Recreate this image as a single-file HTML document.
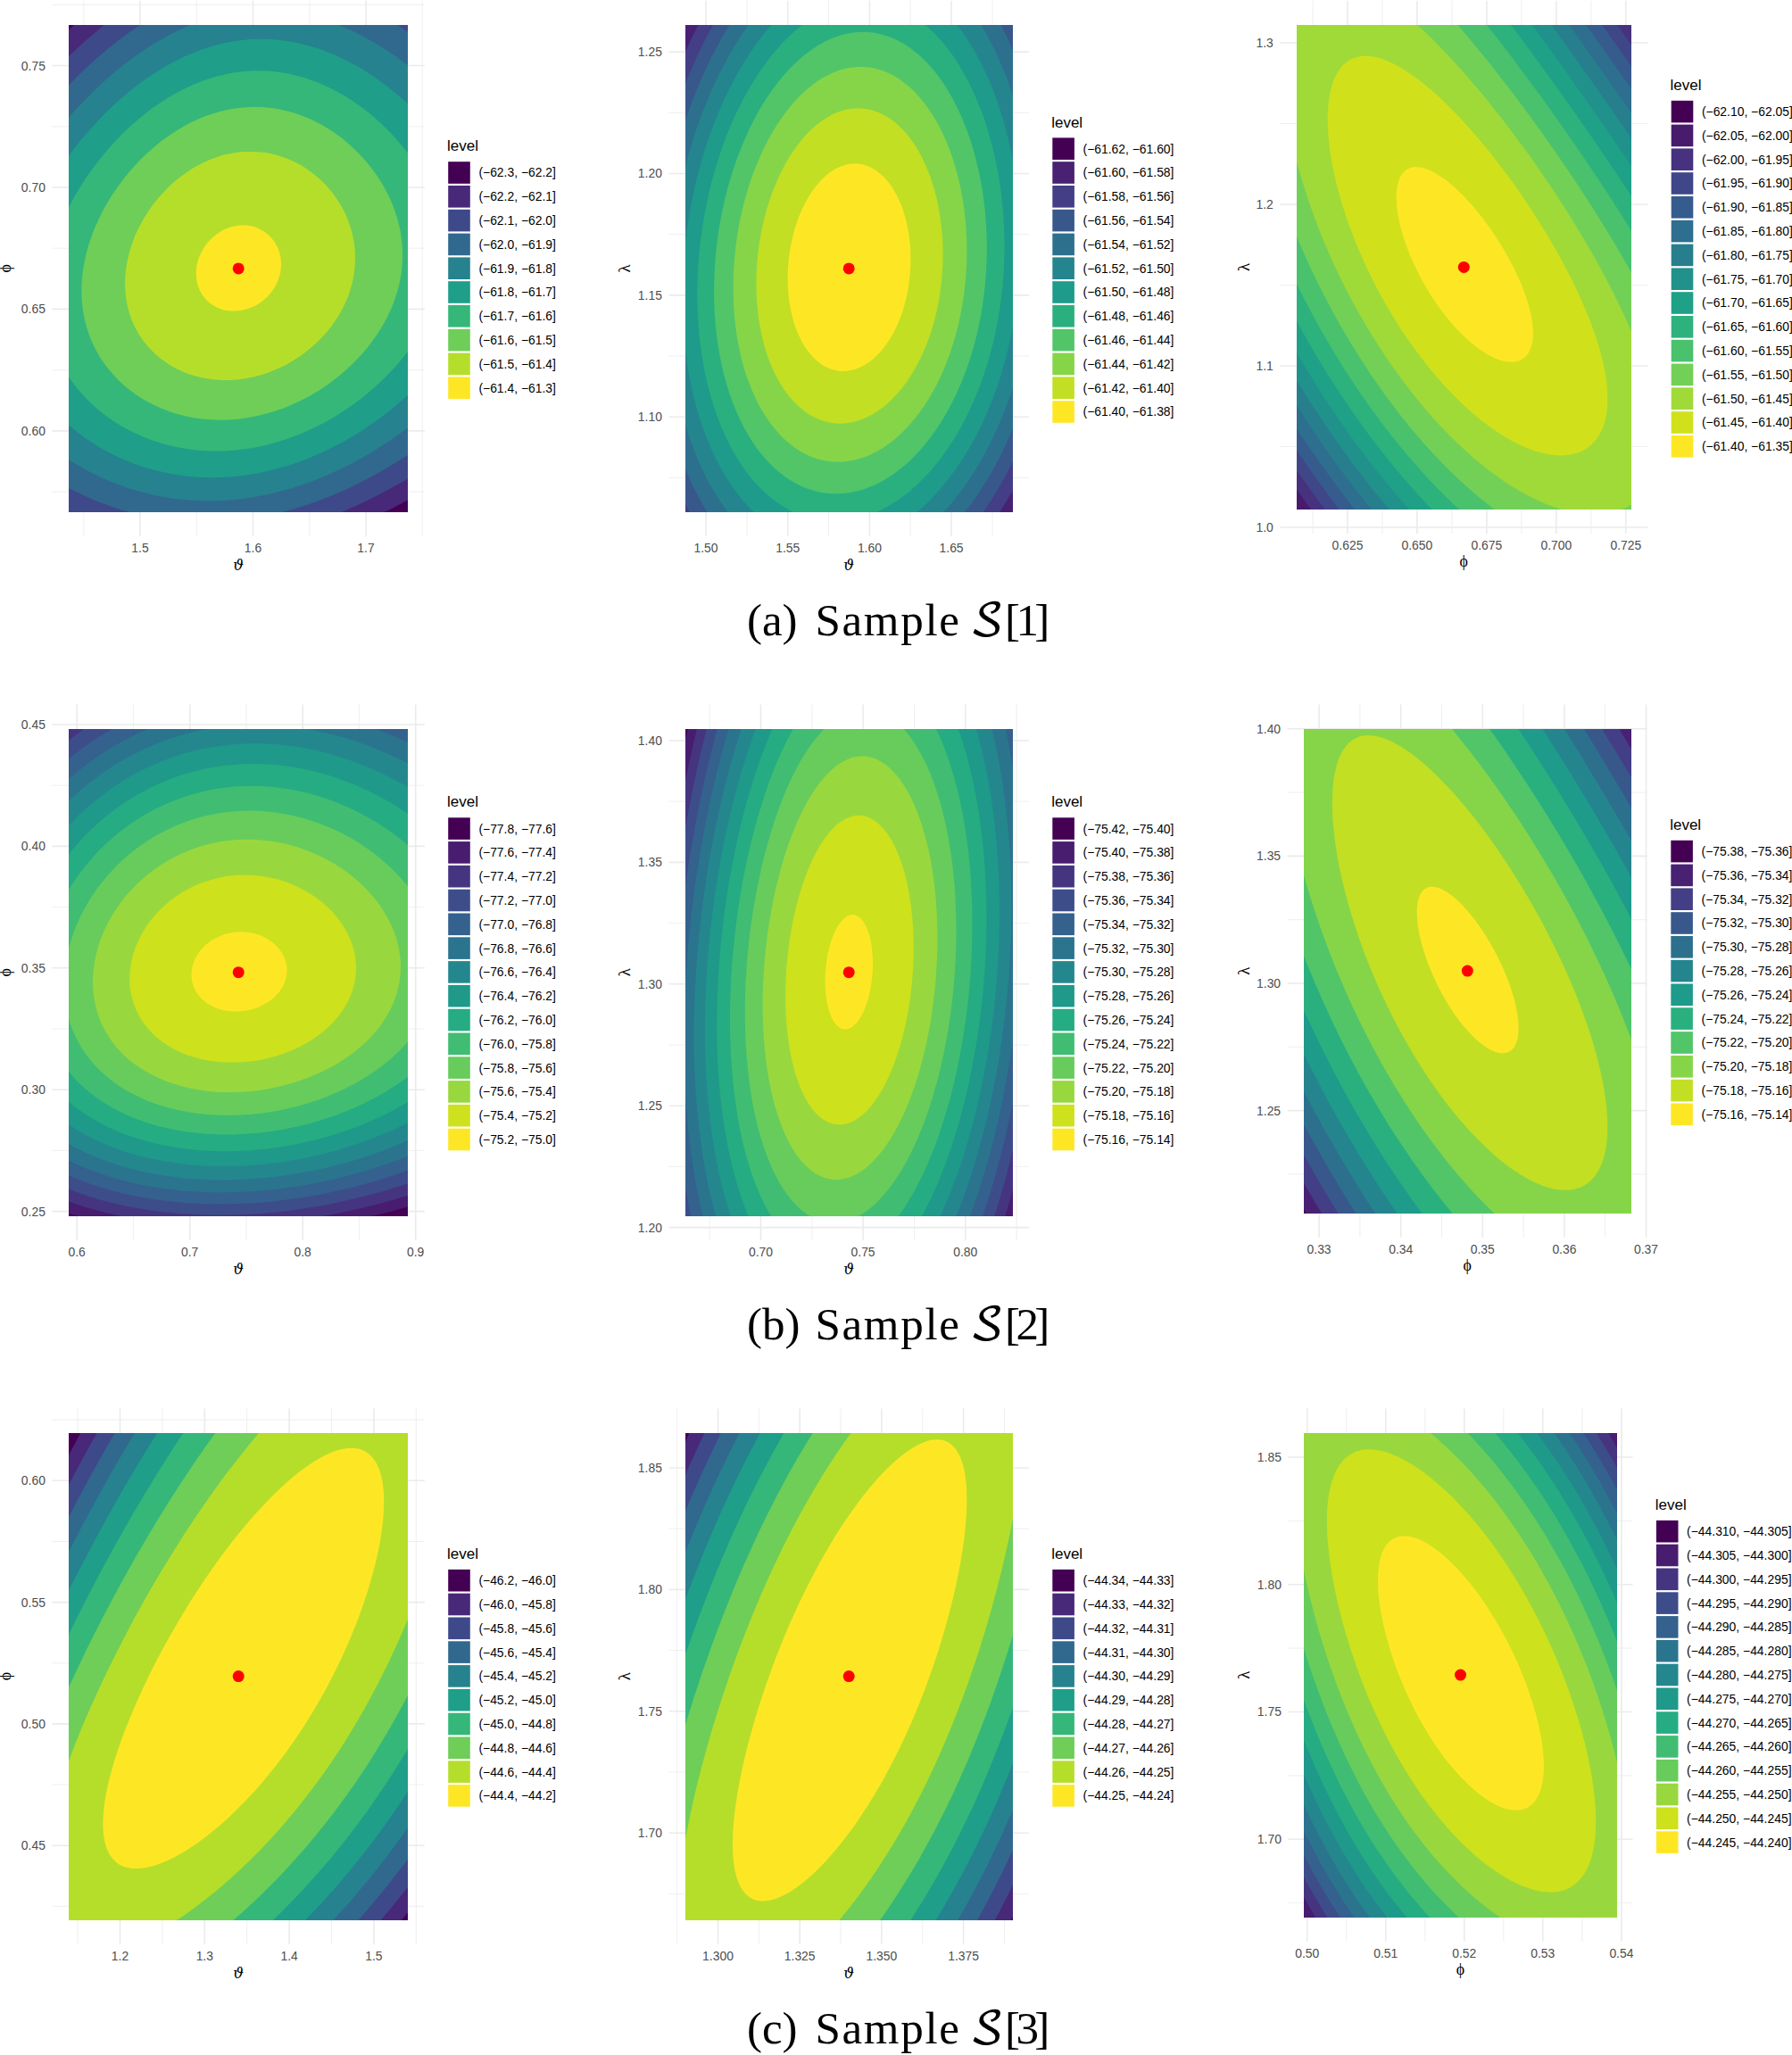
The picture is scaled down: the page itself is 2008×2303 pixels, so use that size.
<!DOCTYPE html>
<html lang="en"><head><meta charset="utf-8"><title>Log-likelihood contours</title><style>
html,body{margin:0;padding:0;background:#fff}
svg{display:block}
text{font-family:"Liberation Sans",sans-serif}
.tk text{font-size:13.9px;fill:#4d4d4d}
.ll text{font-size:13.9px;fill:#000}
.lt{font-size:17px;fill:#000}
.gth{font-family:"DejaVu Serif","Liberation Serif",serif;font-style:italic;font-size:16.5px;fill:#000}
.gph{font-family:"Liberation Serif","DejaVu Serif",serif;font-size:17.8px;fill:#000}
.gla{font-family:"Liberation Serif","DejaVu Serif",serif;font-size:19px;fill:#000}
.cap text{font-family:"Liberation Serif",serif;font-size:51px;fill:#000}
.cap text.cs{font-family:"DejaVu Math TeX Gyre","DejaVu Serif",serif;font-size:50px}
</style></head><body>
<svg xmlns="http://www.w3.org/2000/svg" width="2008" height="2303" viewBox="0 0 2008 2303">
<rect width="2008" height="2303" fill="#fff"/>
<g class="p0">
<path d="M93.8,0.8V601.1M220.2,0.8V601.1M346.8,0.8V601.1M473.2,0.8V601.1M58.5,5.3H475.8M58.5,141.8H475.8M58.5,278.2H475.8M58.5,414.7H475.8M58.5,551.1H475.8" stroke="#ebebeb" stroke-width="0.8" fill="none"/>
<path d="M157,0.8V601.1M283.5,0.8V601.1M410,0.8V601.1M58.5,73.5H475.8M58.5,210H475.8M58.5,346.4H475.8M58.5,482.9H475.8" stroke="#ebebeb" stroke-width="1.6" fill="none"/>
<clipPath id="c0"><rect x="77" y="28" width="380" height="546"/></clipPath>
<g clip-path="url(#c0)">
<rect x="74.5" y="25" width="385.4" height="551.8" fill="#440154"/>
<path d="M71.8,582 414.1,582 425.7,576.5 437.9,570.5 449.9,564.3 462.5,557.5 462.5,19.9 92.3,19.9 82,28.9 71.8,38.4Z" fill="#482878"/>
<path d="M91.9,581.1 94.2,582 362.1,582 374.1,577.4 386.6,572.3 399.3,566.7 411.3,561.1 424,554.8 436.1,548.3 449.2,541.1 462.5,533.3 462.5,19.9 127.1,19.9 120.1,25.3 113.3,30.8 106.6,36.4 99.4,42.6 92.6,48.6 85.7,54.9 78.7,61.5 71.8,68.3 71.8,572.4 81.9,576.9Z" fill="#3e4989"/>
<path d="M178.3,581.1 184.3,582 276.1,582 286.8,580.3 297.5,578.4 308.2,576 319,573.3 327.8,570.9 336.7,568.2 345.6,565.3 354.4,562.2 363.3,558.8 372.1,555.3 381,551.5 389.9,547.4 399.3,542.9 408.1,538.5 417,533.8 425.9,528.9 434.7,523.8 443.7,518.3 453,512.5 462.5,506.3 462.5,39.3 454.9,34.2 446.8,28.9 439.1,24.2 431.7,19.9 169.8,19.9 163.5,23.7 157.1,27.8 151.4,31.7 145.1,36.1 138.8,40.7 132.6,45.3 126.8,49.9 120.5,55 114.7,59.9 108.4,65.3 102.1,71 95.8,76.8 89.8,82.6 83.8,88.5 77.9,94.4 71.8,100.9 71.8,544.2 77.8,547.4 84.4,550.8 90.6,553.8 97.1,556.8 103.4,559.5 110.3,562.4 116.7,564.8 123.6,567.3 129.9,569.4 136.9,571.6 143.9,573.6 150.8,575.4 157.8,577.1 164.7,578.6 171.7,579.9Z" fill="#31688e"/>
<path d="M219.6,561.1 227.3,561.3 234.9,561.4 242.5,561.3 250.1,561 257.7,560.5 265.3,559.8 272.8,558.9 280.4,557.8 288,556.5 295.6,555.1 303.2,553.4 310.8,551.6 318.4,549.6 326,547.4 334.2,544.8 341.8,542.2 349.3,539.5 356.9,536.5 364.5,533.4 372.1,530 379.7,526.5 387.3,522.8 394.9,518.9 402.7,514.7 410.7,510.2 418.3,505.7 425.7,501 432.8,496.5 439.8,491.8 447.4,486.5 454.9,481 462.5,475.3 462.5,77.3 455.6,72 449,67.2 442.6,62.6 435.9,58.1 429,53.6 422.1,49.3 415.2,45.3 408.8,41.8 401.8,38.1 395.5,35 388.5,31.8 382.2,29.1 375.3,26.4 368.9,24 362.6,21.9 355.9,19.9 236.8,19.9 230.9,21.7 224.8,23.7 218.5,26.1 212.1,28.6 203,32.6 193.8,37 185,41.7 176.1,46.8 167.3,52.2 158.4,58.1 149.4,64.4 140.1,71.4 131.2,78.5 122.4,86 114,93.5 105.3,101.7 97.1,109.9 88.3,119 80.1,128.1 71.8,137.7 71.8,511.6 80,517 88.1,522 96.4,526.7 105.3,531.3 114.1,535.5 123,539.4 132.5,543.1 142,546.5 151.4,549.5 160.9,552.1 171,554.6 180.5,556.5 190.6,558.2 200.1,559.5 209.6,560.4Z" fill="#26828e"/>
<path d="M221.7,534.7 229.2,535.1 236.8,535.2 244.4,535.1 252.6,534.8 260.2,534.3 267.8,533.5 275.4,532.6 283.6,531.3 291.2,529.9 299.4,528.1 307,526.3 315.2,524.1 322.8,521.8 330.6,519.2 338.2,516.5 346.2,513.4 354,510.1 362,506.6 369.6,503 376.9,499.2 384.1,495.4 391.8,491 399.3,486.5 406.9,481.7 413.8,477.1 421.2,471.9 428.6,466.5 435.7,461 442.5,455.6 449.2,449.8 456.1,443.7 462.5,437.7 462.5,121.5 455,114.5 448,108.3 440.4,101.9 433.2,96.3 425.9,90.8 418.1,85.3 410,80.1 402.2,75.3 394.2,70.9 386.6,66.9 379.1,63.3 370.8,59.7 362.6,56.5 354.4,53.7 346.8,51.4 338.6,49.2 329.7,47.3 321.5,45.9 312.7,44.7 303.8,44 295,43.7 286.1,43.8 277.3,44.3 269,45.2 260.8,46.4 252,48.1 243.1,50.3 234.3,52.8 226.1,55.5 217.2,58.9 208.5,62.6 200.1,66.5 191.3,71.1 182.4,76.2 173.6,81.7 165.4,87.1 156.5,93.5 148.3,99.8 140.1,106.5 132,113.5 124.1,120.8 115.8,129 107.9,137.2 100.4,145.4 92.6,154.5 85.7,163 78.7,172.1 71.8,181.7 71.8,471.5 79.3,478.3 87.1,484.7 95.2,490.7 103.8,496.5 112.2,501.7 121.1,506.6 130.6,511.4 140.1,515.6 149.5,519.4 159.7,522.9 169.8,526 179.9,528.6 190,530.7 200.8,532.5 210.9,533.8Z" fill="#1f9e89"/>
<path d="M222.3,504.7 230.5,505.3 238.7,505.5 246.9,505.5 255.1,505.2 263.4,504.6 271.6,503.7 279.8,502.5 288.6,500.9 296.9,499.1 305.1,497 313.3,494.6 321.6,491.9 329.7,489 338,485.7 346.2,482.1 354.2,478.3 362.6,474 370.2,469.8 378.4,464.9 385.8,460.1 393.6,454.8 400.6,449.7 408.1,443.9 414.9,438.3 421.4,432.5 428,426.5 434.4,420.1 440.4,413.7 446.1,407.4 452.2,400.1 457.8,392.8 462.5,386.2 462.5,179.4 456.4,170.8 449.9,162.7 442.9,154.6 436.1,147.2 428.7,139.9 420.8,132.7 413.1,126.3 404.9,119.9 396.8,114.2 387.9,108.5 379.4,103.5 370.7,99 362,94.9 353.1,91.3 348.7,89.7 344,88.1 339.2,86.6 334.8,85.4 326,83.2 321.5,82.3 316.5,81.4 307.6,80.3 303.2,79.8 298.1,79.5 289.3,79.3 284.9,79.3 279.8,79.6 270.9,80.3 266.5,80.8 261.5,81.6 256.4,82.5 252,83.4 243.1,85.5 234.3,88.2 229.2,89.9 224.8,91.5 215.9,95.1 207.1,99.2 198.2,103.8 189.4,108.8 180.5,114.5 171.3,120.8 162.8,127.2 154,134.4 145.7,141.7 137.5,149.5 129.3,158 121.8,166.3 114.1,175.4 107,184.5 100.2,193.7 93.6,203.6 87.4,213.6 81.6,223.6 76.4,233.6 71.8,243.4 71.8,413.7 74.5,418.3 77.4,422.8 80.6,427.4 84,431.9 87.6,436.5 90.7,440.1 94.5,444.4 98.3,448.3 102,451.9 106,455.6 110.2,459.2 114.8,462.9 119.4,466.5 124.3,469.9 128.7,472.9 133.7,476 138.8,479 143.9,481.8 148.9,484.3 154,486.7 159.6,489.2 164.7,491.3 170.4,493.4 176.1,495.3 181.8,497.1 187.5,498.6 193.2,500 198.9,501.3 204.6,502.3 210.2,503.3 215.9,504Z" fill="#35b779"/>
<path d="M232.5,470.1 241.2,470.6 249.4,470.7 257.7,470.4 266.5,469.7 275.4,468.5 283.6,467.1 291.8,465.3 300.7,463 309.5,460.3 317.7,457.4 326,454 334.2,450.3 341.9,446.5 350.1,441.9 357.6,437.4 365.2,432.4 372.7,426.9 380.3,421 386.7,415.5 393.6,409.2 400,402.8 405.8,396.4 411.3,390 416.9,382.8 422,375.5 426.7,368.2 431,361 434.7,353.7 438.1,346.4 441.4,338.2 443.9,330.9 446.3,322.8 448,315.5 449.4,308.2 450.3,300.9 450.9,292.7 451.1,285.5 450.8,277.3 450.1,269.1 449.1,261.8 447.5,253.6 445.6,246.3 443.4,239.1 440.8,231.8 437.8,224.5 434.4,217.2 430.5,210 426.2,202.7 421.4,195.5 416.7,189 411.7,182.7 406.1,176.3 400,169.9 394.2,164.4 387.9,158.8 381,153.3 374,148.3 367,143.8 360.1,139.7 353.1,136 345.6,132.5 338,129.5 330.4,126.8 322.8,124.7 314.6,122.7 306.4,121.3 298.1,120.4 293.7,120.1 289.3,119.9 284.9,119.8 280.4,119.9 272.2,120.4 267.8,120.9 263.4,121.5 255.1,122.9 250.7,123.9 246.3,125 238.1,127.4 229.8,130.3 221.6,133.7 213.4,137.6 205.2,142 197,146.9 188.7,152.4 180.9,158.1 173,164.5 165.4,171.2 158.2,178.1 151.2,185.4 144.1,193.6 137.5,201.8 131.5,210 125.9,218.1 120.3,227.2 115.2,236.3 110.7,245.4 106.6,254.5 103,263.6 101.4,268.2 99.6,273.6 97,282.7 95.1,290.9 93.4,300 92.8,304.6 92.2,309.1 91.6,317.3 91.3,325.5 91.5,333.7 92.2,341.9 93.3,350 93.9,353.7 94.9,358.2 96.7,365.5 98.1,370.1 99.3,373.7 102.1,381 105.4,388.2 109.1,395.2 113.1,401.9 117.5,408.3 122.4,414.6 124.9,417.6 127.9,421 133.2,426.5 136.3,429.4 139.4,432.2 145.8,437.4 149.4,440.1 152.7,442.4 159.7,446.9 166.8,451 174.2,454.8 182.2,458.3 190,461.2 198.2,463.9 206.5,466 215.3,467.9 223.9,469.2Z" fill="#6ece58"/>
<path d="M241.3,425.5 247.5,425.9 253.2,426.1 258.9,425.9 265.3,425.5 271.6,424.7 277.8,423.7 283.6,422.5 289.9,420.9 295.8,419.2 301.9,417 308.1,414.6 313.9,412 319.7,409.2 325.3,406.1 330.7,402.8 336.2,399.2 341.3,395.5 346.8,391.1 351.3,387.3 356.1,382.8 360.6,378.2 364.8,373.7 368.9,368.7 372.7,363.7 375.9,359.1 379.4,353.7 382.6,348.2 385.4,342.8 387.9,337.3 390.1,331.9 392.3,325.5 393.9,320 395.2,314.6 396.3,309.1 397.2,302.7 397.7,297.3 398,290.9 397.9,285.5 397.6,279.1 397,273.6 395.9,267.3 394.7,261.8 393.2,256.4 391.5,250.9 389.4,245.4 387.1,240 384.8,235.3 381.9,230 378.5,224.5 375.4,220 372,215.4 368.2,210.9 364,206.3 360.1,202.4 355.7,198.4 350.9,194.5 346,190.9 341.1,187.6 336.1,184.6 331,181.9 326,179.5 320.4,177.2 315.2,175.4 309.5,173.7 303.8,172.3 297.5,171.1 291.2,170.4 284.9,169.9 278.5,169.9 272.2,170.1 265.9,170.8 259.6,171.8 253.2,173.1 246.9,174.8 240.6,176.9 234.9,179.1 228.9,181.8 222.9,184.8 216.9,188.1 210.9,191.9 205.2,195.9 199.5,200.3 193.8,205.1 188.7,209.8 183.7,214.9 178.6,220.5 173.8,226.3 169.7,231.8 165.4,238.1 161.6,244.1 157.8,250.8 154.6,257.1 151.6,263.6 149.1,270 146.9,276.4 144.7,283.6 143.2,290 141.9,296.4 141,302.7 140.4,309.1 140.1,315.5 140.2,321.8 140.6,328.2 141.3,334.6 142.4,340.9 143.7,346.4 145.6,352.8 147.5,358.2 149.8,363.7 152.5,369.1 155.2,373.9 158.4,378.8 161.9,383.7 165.7,388.2 169.9,392.8 174.2,397 178.9,401 183.6,404.6 188.7,408.1 193.6,411 198.9,413.8 204.7,416.4 210.9,418.9 216.6,420.8 222.3,422.3 228.6,423.8 234.9,424.8Z" fill="#b5de2b"/>
<path d="M256.2,348.2 260.8,348.6 265.3,348.5 269.7,348 274.1,347.1 278.5,345.7 283,344 287.2,341.9 291.2,339.4 295,336.6 298.3,333.7 301.8,330 304.8,326.4 307.2,322.8 308.3,320.9 309.8,318.2 311.4,314.5 313,310 314.1,305.5 314.8,300.9 315,296.4 314.8,291.8 314.2,287.3 313.3,283.6 312,279.7 311,277.3 310.1,275.5 308,271.8 305.4,268.2 302.6,265 299.4,262.1 296.2,259.7 292.4,257.4 288.6,255.6 284.9,254.3 282.4,253.6 280.4,253.2 277.9,252.8 275.4,252.6 270.9,252.5 268.4,252.6 265.9,252.9 263.4,253.3 260.8,253.9 258.3,254.6 255.8,255.4 251.3,257.3 246.9,259.7 245,260.9 242.5,262.7 238.7,265.7 236.8,267.5 234.9,269.4 233,271.6 231.3,273.6 229.8,275.7 228.2,278.2 225.6,282.7 223.5,287.3 221.9,291.8 220.8,296.4 220.3,299.1 220,301.8 219.8,304.6 219.8,307.3 220.1,311.8 220.8,316.4 221.5,319.1 222.1,320.9 222.9,323.1 223.9,325.5 225.9,329.1 227.1,330.9 228.4,332.8 229.9,334.6 231.6,336.4 233.5,338.2 234.9,339.4 236.8,340.8 238.7,342.1 242.5,344.2 245,345.3 246.9,346 248.8,346.7 251.3,347.4 253.9,347.9Z" fill="#fde725"/>
</g>
<circle cx="267.2" cy="300.9" r="6.5" fill="#f00"/>
<g class="tk" text-anchor="middle">
<text x="157" y="619.1">1.5</text>
<text x="283.5" y="619.1">1.6</text>
<text x="410" y="619.1">1.7</text>
</g>
<g class="tk" text-anchor="end">
<text x="50.9" y="78.5">0.75</text>
<text x="50.9" y="214.9">0.70</text>
<text x="50.9" y="351.3">0.65</text>
<text x="50.9" y="487.8">0.60</text>
</g>
<text class="gth" text-anchor="middle" x="267.1" y="639.1">ϑ</text>
<text class="gph" text-anchor="middle" transform="translate(11.9,300.9) rotate(-90)">ϕ</text>
<text class="lt" x="501.1" y="169.3">level</text>
<g class="ll">
<rect x="502.2" y="181.2" width="24.6" height="24.6" fill="#440154"/>
<text x="536.4" y="198.4">(−62.3, −62.2]</text>
<rect x="502.2" y="208" width="24.6" height="24.6" fill="#482878"/>
<text x="536.4" y="225.2">(−62.2, −62.1]</text>
<rect x="502.2" y="234.8" width="24.6" height="24.6" fill="#3e4989"/>
<text x="536.4" y="252">(−62.1, −62.0]</text>
<rect x="502.2" y="261.6" width="24.6" height="24.6" fill="#31688e"/>
<text x="536.4" y="278.8">(−62.0, −61.9]</text>
<rect x="502.2" y="288.4" width="24.6" height="24.6" fill="#26828e"/>
<text x="536.4" y="305.6">(−61.9, −61.8]</text>
<rect x="502.2" y="315.2" width="24.6" height="24.6" fill="#1f9e89"/>
<text x="536.4" y="332.4">(−61.8, −61.7]</text>
<rect x="502.2" y="342" width="24.6" height="24.6" fill="#35b779"/>
<text x="536.4" y="359.2">(−61.7, −61.6]</text>
<rect x="502.2" y="368.8" width="24.6" height="24.6" fill="#6ece58"/>
<text x="536.4" y="386">(−61.6, −61.5]</text>
<rect x="502.2" y="395.6" width="24.6" height="24.6" fill="#b5de2b"/>
<text x="536.4" y="412.8">(−61.5, −61.4]</text>
<rect x="502.2" y="422.4" width="24.6" height="24.6" fill="#fde725"/>
<text x="536.4" y="439.6">(−61.4, −61.3]</text>
</g>
</g>
<g class="p1">
<path d="M836.9,0.8V601.1M928.5,0.8V601.1M1020.2,0.8V601.1M1112,0.8V601.1M749.5,126.3H1153M749.5,262.7H1153M749.5,399.1H1153M749.5,535.5H1153" stroke="#ebebeb" stroke-width="0.8" fill="none"/>
<path d="M791,0.8V601.1M882.7,0.8V601.1M974.4,0.8V601.1M1066.1,0.8V601.1M749.5,58.1H1153M749.5,194.5H1153M749.5,330.9H1153M749.5,467.3H1153" stroke="#ebebeb" stroke-width="1.6" fill="none"/>
<clipPath id="c1"><rect x="768" y="28" width="367" height="546"/></clipPath>
<g clip-path="url(#c1)">
<rect x="764.8" y="25" width="372.8" height="551.8" fill="#440154"/>
<path d="M762.3,582 1132.2,582 1136.1,575.6 1140.1,568.9 1140.1,19.9 771.1,19.9 766.7,28.9 762.3,38.3Z" fill="#482173"/>
<path d="M762.3,582 1115,582 1121.5,572 1127.9,561.5 1134,550.9 1140.1,539.5 1140.1,19.9 786.7,19.9 780,32.6 773.9,45.1 768,58.1 762.3,71.2Z" fill="#433e85"/>
<path d="M776.8,581.1 777.3,582 1096,582 1103.1,572 1110.2,561.4 1114.4,554.7 1118.2,548.3 1122.4,541.1 1125.9,534.7 1129.7,527.6 1133.4,520.4 1137,512.9 1140.1,506.2 1140.1,25.5 1137.5,19.9 803.7,19.9 797.7,30.2 792.2,40.5 786.7,51.3 781.3,62.6 776.4,73.5 771.5,85 766.6,97.2 762.3,108.5 762.3,552.7 765.8,560.2 769.4,567.4 773.2,574.7Z" fill="#38588c"/>
<path d="M797.3,581.1 797.9,582 1074.5,582 1079.6,575.8 1084.5,569.5 1089.4,562.9 1093.6,556.9 1097.9,550.5 1102.3,543.8 1106.7,536.5 1111,529.2 1115,522 1118.9,514.7 1123,506.5 1126.5,499.2 1129.8,491.9 1133.4,483.7 1136.7,475.6 1140.1,466.9 1140.1,69.6 1134.8,56.2 1129.2,43.5 1123.5,31.7 1120.5,25.9 1117.3,19.9 822.7,19.9 815.5,31.3 808.8,42.6 802,55 795.3,68.1 789.2,81.1 783.1,95 777.4,109 772.1,123.1 767.2,137.2 762.3,152.6 762.3,510.6 766,520.3 770,530.1 774,539.2 778.2,548 782.6,556.5 787.4,565.2 792.2,573.3Z" fill="#2d708e"/>
<path d="M821.5,581.1 822.2,582 1049.4,582 1053.9,577.4 1058.2,572.8 1062.5,568 1066.8,562.9 1071,557.7 1075.3,552.2 1079.5,546.5 1083.3,541.2 1087,535.6 1091.2,529.2 1094.9,523.2 1098.3,517.4 1101.9,511 1105.3,504.9 1108.7,498.3 1111.8,491.9 1116.1,482.8 1119.9,474.2 1123.9,464.7 1127.4,455.6 1130.9,445.8 1134.1,436.5 1137.3,426.5 1140.1,416.6 1140.1,124.6 1138,117.2 1135.7,109.9 1133.3,102.6 1130.8,95.4 1128.5,88.9 1125.7,81.7 1123,75 1120,68.1 1117.2,61.7 1114.2,55.3 1111,49 1107.7,42.7 1104.7,37.1 1101,30.8 1097.7,25.3 1094.2,19.9 844.7,19.9 839.3,27.1 833.8,35 828.3,43.3 823.4,51.2 818.5,59.5 813.6,68.2 808.9,77.2 804.5,86.1 800.9,93.5 797.7,100.5 794.5,108.1 791.4,115.4 788.5,122.6 785.5,130.5 782.8,138.1 780,146.1 777.5,153.6 775,161.8 772.5,169.9 770.2,178.1 768.1,186.3 766,194.5 762.3,210.9 762.3,454.2 764.7,463.7 767.2,472.8 769.9,481.9 772.9,491 776.1,500.1 779.3,508.3 782.7,516.5 786.4,524.7 790.3,532.9 794.1,540.2 798.4,547.8 802.6,554.9 807.2,562 811.8,568.6 816.7,575.2Z" fill="#25858e"/>
<path d="M852.5,581.1 853.6,582 1017.2,582 1024.6,576.3 1031.8,570.2 1038.6,563.9 1045.4,557.1 1052.1,549.8 1058.7,542 1064.9,534.1 1071.1,525.6 1077.1,516.8 1083,507.4 1088.4,498.3 1093.8,488.3 1098.8,478.3 1103.5,468.3 1108.2,457.4 1112.6,446.4 1115,439.8 1117.5,432.9 1121.8,419.7 1123.8,412.8 1125.9,405.5 1129.4,391.9 1132.5,378.2 1135.3,363.7 1137.7,349.1 1139.6,334.6 1140.1,330.4 1140.1,215.4 1138.3,200.9 1136,186.3 1133.4,172.2 1130.3,158.1 1126.9,144.5 1123,130.7 1118.7,117.4 1114.1,104.4 1109.4,92.6 1106.6,86.3 1104,80.6 1101.1,74.4 1098.4,69 1095.5,63.5 1092.4,57.9 1089.4,52.7 1086.3,47.7 1083.1,42.6 1079.6,37.5 1076.1,32.6 1072.9,28.2 1069.8,24.4 1066.1,19.9 871.7,19.9 866.6,25.3 861.3,31.4 855.8,38 850.9,44.4 846,51.1 841.2,58.2 836.3,65.7 831.4,73.5 827.1,81 822.7,89 818.4,97.2 814.3,105.6 810.1,114.5 806.3,123.2 802.6,132 799.2,140.8 796.5,148.1 793.9,155.4 791.5,162.7 788.9,170.8 786.7,178.1 784.4,186.3 780.3,201.8 776.8,217.2 775.1,225.4 773.6,233.6 772.1,241.8 770.8,249.8 768.7,265.4 767.7,273.6 766.9,281.8 766.2,290 765.6,298.2 765.1,306.4 764.8,314.6 764.6,322.8 764.5,330.9 764.5,339.1 764.7,347.3 765.3,362.8 765.9,371 766.5,378.2 767.2,385.7 768.1,393.7 769,401 770.2,409.2 771.4,416.4 772.7,423.7 774.2,431 775.8,438.3 777.5,445.6 779.4,452.8 781.2,459.5 783.3,466.5 785.5,473.4 787.8,480.1 790.2,486.5 792.7,492.9 795.3,499.2 797.7,504.7 800.2,510.1 803.2,516.3 806.2,522 809.2,527.4 812.4,532.8 815.5,537.8 818.8,542.9 822.2,547.7 825.9,552.7 829.5,557.4 833.2,561.8 836.9,565.9 840.5,569.8 844.5,573.8 848.5,577.5Z" fill="#1e9b8a"/>
<path d="M908.9,581.1 912.8,582 957.2,582 961.2,581.1 965.3,580 969.5,578.7 973.2,577.5 977.5,575.9 981.2,574.3 984.8,572.7 989.1,570.6 993.3,568.4 997.1,566.2 1001,563.8 1005,561.2 1012.3,556 1016,553.2 1019.7,550.2 1023.3,547 1027,543.7 1030.7,540.3 1034.3,536.6 1041.3,529.2 1044.7,525.3 1048.3,521.1 1054.7,512.9 1061.2,503.8 1067.4,494.6 1073.4,484.7 1079,474.7 1084.1,464.7 1089.2,453.7 1093.9,442.8 1098.2,431.9 1102.4,420.1 1106.2,408.3 1109.6,396.4 1112.9,383.7 1115.7,371 1118.2,358.2 1120.3,345.5 1122,332.8 1123.5,319.1 1124.5,306.4 1125.2,292.7 1125.5,280 1125.4,266.4 1124.9,252.7 1124.2,240 1123,226.8 1121.4,213.6 1119.6,200.9 1117.3,188.1 1114.7,175.4 1111.8,163.6 1108.6,151.7 1105,139.9 1101,128.1 1096.8,117.2 1092.4,106.8 1087.5,96.3 1082.4,86.3 1077.1,77 1071.6,68.1 1068.6,63.6 1065.5,59.3 1062.5,55.2 1059.4,51.3 1056.4,47.6 1053.3,44 1050.2,40.7 1046.8,37.1 1043.5,33.9 1040.1,30.8 1036.8,27.9 1033.1,24.9 1029.5,22.2 1026.2,19.9 910.5,19.9 905.3,23.3 900.1,27.1 895,31.2 890.1,35.3 885.8,39.2 881.5,43.4 877.8,47.1 873.6,51.7 869.6,56.2 865.8,60.8 861.9,65.6 858.3,70.4 854.6,75.5 850.9,80.8 847.3,86.3 843.9,91.7 840.5,97.3 837,103.5 833.8,109.3 830.6,115.4 827.4,121.7 824.4,128.1 821.5,134.5 818.5,141.3 815.7,148.1 813,155 808.1,168.5 805.8,175.4 803.5,182.7 801.3,190 799.2,197.2 797.1,205.1 795.3,212.5 792,227.2 789.2,241.8 787.9,249.1 786.7,257.3 784.7,271.8 783.2,287.3 782.1,302.7 781.5,317.3 781.4,325.5 781.3,332.8 781.7,347.3 782.4,361.9 783.6,376.4 784.4,383.7 785.4,391 787.5,404.6 788.6,411 790,418.3 791.6,425.5 793.1,431.9 794.7,438.3 796.5,444.8 798.4,451 800.4,457.4 802.6,463.7 804.6,469.2 806.9,475.2 809.3,481 811.7,486.5 814.3,491.9 817,497.4 819.8,502.9 822.8,508.2 825.9,513.3 828.9,518.1 832,522.7 835.3,527.4 838.7,531.9 841.8,535.7 845.4,540 849.1,544 852.8,547.8 856.4,551.3 860.1,554.7 863.8,557.7 867.4,560.6 871.7,563.8 875.4,566.2 879.1,568.5 883.3,571 887.6,573.2 891.9,575.2 896.2,577 900.5,578.5 904.7,579.9Z" fill="#2ab07f"/>
<path d="M928.1,552.9 932.2,553.2 935.9,553.3 939.6,553.3 943.3,553.1 946.9,552.8 951.2,552.2 954.9,551.6 958.5,550.8 962.2,549.9 966.5,548.7 970.2,547.4 973.8,546.1 977.5,544.6 981.2,542.9 984.8,541.1 988.5,539.2 992.2,537.1 995.8,534.8 999.5,532.4 1003.2,529.8 1006.8,527.1 1010.5,524.2 1017.2,518.4 1024,511.9 1027.4,508.3 1030.7,504.8 1037,497.4 1040.5,493.1 1043.5,489.1 1049.6,480.5 1055.2,471.9 1060.6,462.8 1066,452.8 1071,442.8 1075.5,432.8 1079.9,421.9 1084,411 1087.6,400.1 1091.1,388.2 1094.2,376.4 1096.7,365.3 1099.2,352.9 1101.1,340.9 1102.8,328.4 1104.1,316.4 1105,303.7 1105.6,290.9 1105.8,278.2 1105.6,265.4 1105,252.7 1104.1,240 1102.8,228.1 1101.1,215.4 1099.1,203.6 1096.7,191.7 1093.9,179.9 1090.7,168.1 1087.4,157.2 1083.6,146.3 1079.3,135.4 1074.9,125.4 1072.3,119.9 1070,115.4 1065.1,106.3 1060,97.9 1057.2,93.5 1054.5,89.7 1049,82.3 1046,78.5 1042.9,74.9 1039.8,71.5 1036.5,68.1 1033.1,64.7 1030.1,61.9 1026.6,59 1023.3,56.4 1020.3,54.1 1016.8,51.7 1013.6,49.6 1009.9,47.5 1006.8,45.8 1003.2,44 999.9,42.6 996.4,41.2 992.8,40 989.1,38.9 985.4,38 981.8,37.2 978.1,36.6 974.4,36.2 970.8,36 967.1,35.9 963.4,35.9 959.8,36.2 956.1,36.6 952.4,37.1 948.8,37.8 945.1,38.7 941.4,39.7 937.8,40.9 934.1,42.3 930.4,43.8 926.7,45.5 923.4,47.1 920,49 916.4,51.1 912.7,53.5 909,55.9 906,58.2 902.3,61 898.6,64 895,67.2 891.9,70 888.2,73.6 884.7,77.2 881.5,80.6 875.1,88.1 868.7,96.2 862.6,104.8 856.4,114.1 850.9,123.2 845.4,133.2 840.2,143.6 835.2,154.5 830.6,165.4 826.4,176.3 822.2,188.1 818.5,200 815.1,211.8 812.2,223.6 809.3,236.3 806.9,249.1 804.8,261.8 803.1,274.5 801.8,287.3 800.9,300 800.3,312.8 800.1,325.5 800.2,337.3 800.7,350 801.6,361.9 802.8,373.7 804.3,385.5 806.3,397.3 808.5,408.3 811,419.2 814,430.1 817.3,440.7 821,451 825,461 829.1,470.1 833.7,479.2 838.3,487.4 840.5,491.1 843.4,495.6 848.5,502.9 851.2,506.5 854.2,510.1 857.1,513.5 860.1,516.9 863.2,520.1 866.2,523.1 869.3,525.9 872.3,528.5 875.4,531.1 879.1,533.8 882.1,535.9 885.8,538.3 888.9,540.2 892.5,542.2 895.8,543.8 899.2,545.4 902.3,546.7 906,548 909.6,549.2 913.3,550.3 917,551.2 920.6,551.9 924.3,552.5Z" fill="#52c569"/>
<path d="M932.4,517.4 935.9,517.6 939,517.7 942,517.6 945.7,517.4 948.8,517.1 952.4,516.6 958.5,515.3 964.7,513.6 967.7,512.6 971.4,511.2 974.4,509.9 977.9,508.3 984.2,505 990.3,501.2 996.4,497 1002.6,492.2 1008.7,486.8 1014.6,481 1020.3,474.8 1025.7,468.3 1030.7,461.8 1035.7,454.7 1040.5,447.3 1045.2,439.2 1049.6,430.9 1053.9,422.1 1057.7,413.7 1061.3,404.6 1065,394.6 1068.2,384.6 1071,375 1073.7,364.6 1075.9,354.6 1077.9,344.6 1079.6,333.7 1080.9,323.7 1082,312.8 1082.8,301.8 1083.3,291.1 1083.4,280.9 1083.2,270 1082.7,259.1 1081.9,248.2 1080.8,238.2 1079.3,227.2 1077.4,216.3 1075.4,206.3 1073,196.3 1070.4,187 1067.4,177.2 1064.2,168.1 1060.6,159.2 1056.9,150.8 1052.7,142.2 1048.4,134.5 1044,127.2 1039.2,120.2 1034.3,113.7 1029.5,107.9 1027,105.2 1024,102.1 1018.5,97 1012.9,92.5 1009.9,90.2 1006.8,88.1 1001.3,84.8 998.3,83.2 995.2,81.8 992.2,80.4 989.1,79.3 986,78.3 983,77.4 979.9,76.6 976.9,76 973.8,75.6 970.8,75.2 967.7,75 964.7,74.9 961.6,75 958.5,75.2 955.5,75.5 951.8,76 948.8,76.6 945.7,77.3 942.6,78.2 939.6,79.1 935.9,80.5 932.9,81.7 926.7,84.7 920.6,88.1 914.5,92.1 908.4,96.7 902.4,101.7 896.8,107 890.7,113.4 885.2,119.8 879.7,126.8 874.8,133.7 869.9,141.1 865,149.2 860.1,158 855.8,166.5 851.7,175.4 847.8,184.5 843.9,194.5 840.4,204.5 837.3,214.5 834.4,224.5 831.7,235.4 829.3,246.3 827.2,257.3 825.5,268.2 824.1,279.1 823,290 822.2,300.9 821.7,311.8 821.6,322.8 821.7,332.8 822.2,343.7 822.9,353.7 823.9,363.7 825.3,373.7 826.9,383.7 829,393.7 831.3,403.7 833.8,412.7 836.7,421.9 839.7,430.1 843,438.3 846.7,446.5 850.3,453.7 854.6,461.3 859,468.3 863.8,475.1 868.7,481.3 873.6,486.8 878.7,491.9 884,496.6 889.5,500.9 895.1,504.7 898,506.5 901.1,508.1 904.1,509.7 907.2,511.1 910.2,512.3 913.3,513.4 916.4,514.4 919.4,515.2 922.5,515.9 926.1,516.6 929.2,517.1Z" fill="#86d549"/>
<path d="M930.9,473.8 935.9,474.4 941.4,474.7 946.3,474.5 951.8,473.8 956.7,472.8 962.2,471.3 967.7,469.3 972.6,467.1 978.1,464.2 983,461.1 987.9,457.6 992.8,453.7 997.7,449.3 1002.3,444.6 1006.8,439.7 1011.1,434.5 1015.4,428.7 1019.4,422.8 1023.3,416.5 1027,410.1 1030.7,403 1033.8,396.4 1036.9,389.2 1039.8,381.7 1042.7,373.7 1045.2,365.5 1047.5,357.3 1049.5,349.1 1051.2,340.9 1052.7,332.8 1053.9,324.6 1055,315.5 1055.7,307.2 1056.3,298.2 1056.5,289.1 1056.5,280.9 1056.3,272.7 1055.8,263.6 1054.9,254.5 1053.9,246.3 1052.7,238.2 1051.2,230 1049.4,221.8 1047.3,213.6 1044.8,205.4 1042.4,198.1 1039.6,190.9 1036.8,184.3 1033.5,177.2 1030.1,170.8 1026.4,164.6 1022.7,159.1 1018.7,153.6 1014.8,148.8 1010.5,144.2 1006.2,140.1 1001.7,136.3 997.1,132.8 992.4,129.9 987.9,127.5 983,125.4 978.1,123.8 973.2,122.5 970.8,122.1 967.7,121.7 962.8,121.4 957.9,121.5 953,122 950,122.5 947.5,123 942.6,124.4 937.8,126.1 932.9,128.3 928,130.9 923.1,133.9 918.2,137.4 913.9,140.8 909,145.2 904.7,149.5 900.2,154.5 895.7,159.9 891.6,165.4 887.2,171.8 883.3,177.9 879.7,184.3 876.2,190.9 872.9,197.6 869.9,204.5 866.8,212 863.9,220 861.3,227.5 858.9,235.6 856.5,244.5 854.6,252.6 852.9,260.9 851.4,269.1 850.2,277.3 849.1,286.4 848.4,294.6 847.8,303.7 847.5,312.8 847.5,320.9 847.7,329.1 848.1,337.3 848.8,345.5 849.7,353.7 850.9,361.9 852.2,369.1 853.9,377.3 855.7,384.6 857.8,391.9 860.1,399.1 862.5,405.5 865.1,411.9 868,418.3 871.1,424.3 874.4,430.1 877.9,435.5 881.5,440.6 885.4,445.6 889.5,450.1 893.7,454.4 898,458.1 902.3,461.4 907.1,464.7 911.5,467.1 916.4,469.4 921.2,471.3 926.1,472.7Z" fill="#c2df23"/>
<path d="M939.1,415.5 942.6,415.9 946.3,415.9 950,415.6 953,415.1 956.1,414.4 959.8,413.3 963.2,411.9 966.5,410.3 970.1,408.3 973.2,406.2 976.3,403.9 979.3,401.4 982.4,398.5 985.4,395.4 988.5,391.9 991.4,388.2 994,384.6 997,380.1 999.5,375.9 1001.7,371.9 1004,367.3 1006,362.8 1008.1,357.9 1010,352.8 1011.7,347.6 1013.2,342.8 1014.7,337.3 1016,331.7 1017.1,326.4 1018,320.9 1018.9,314.6 1019.5,309.1 1020,303.7 1020.3,298.2 1020.4,291.8 1020.4,286.4 1020.2,280.9 1019.8,274.5 1019.2,269.1 1018.5,263.6 1017.7,258.2 1016.6,252.7 1015.4,247.5 1014.1,242.7 1012.4,237.3 1010.9,232.7 1009.1,228.2 1007.1,223.6 1005,219.2 1002.9,215.4 1000.7,211.7 998.3,208 995.7,204.5 992.8,201 990.1,198.1 987.2,195.4 984.2,193 981.2,190.8 978.1,188.9 975,187.3 972,186 968.3,184.8 965.3,184.1 961.6,183.6 958.5,183.4 954.9,183.5 951.8,183.8 948.1,184.6 945.1,185.4 941.4,186.8 938.4,188.2 935.3,189.8 932.2,191.7 929.2,193.8 926.1,196.3 923,199 920,202 917,205.4 913.9,209.1 911.2,212.7 908.4,216.8 906,220.7 903.5,225 901.1,229.7 898.7,234.5 896.8,239.1 894.9,243.6 893,249.1 891.2,254.5 889.6,260 888.2,265.4 887,270.7 885.9,276.4 885,281.8 884.2,287.3 883.6,292.7 883.1,298.2 882.8,304.6 882.7,310 882.7,315.5 882.9,320.9 883.2,326.4 883.7,331.9 884.4,337.3 885.2,342.5 886.1,347.3 887.1,351.9 888.5,357.3 889.8,361.9 891.3,366.4 893,371 895,375.6 896.8,379.5 899,383.7 901.1,387.3 903.5,391 906,394.3 908.4,397.3 910.9,400.1 913.9,403 917,405.6 920,407.9 923.1,409.9 926.1,411.5 929.2,412.9 932.2,414 935.9,415Z" fill="#fde725"/>
</g>
<circle cx="951.2" cy="300.9" r="6.5" fill="#f00"/>
<g class="tk" text-anchor="middle">
<text x="791" y="619.1">1.50</text>
<text x="882.7" y="619.1">1.55</text>
<text x="974.4" y="619.1">1.60</text>
<text x="1066.1" y="619.1">1.65</text>
</g>
<g class="tk" text-anchor="end">
<text x="741.9" y="63">1.25</text>
<text x="741.9" y="199.4">1.20</text>
<text x="741.9" y="335.8">1.15</text>
<text x="741.9" y="472.2">1.10</text>
</g>
<text class="gth" text-anchor="middle" x="951.2" y="639.1">ϑ</text>
<text class="gla" text-anchor="middle" transform="translate(706.3,300.9) rotate(-90)">λ</text>
<text class="lt" x="1178.2" y="142.5">level</text>
<g class="ll">
<rect x="1179.3" y="154.4" width="24.6" height="24.6" fill="#440154"/>
<text x="1213.5" y="171.6">(−61.62, −61.60]</text>
<rect x="1179.3" y="181.2" width="24.6" height="24.6" fill="#482173"/>
<text x="1213.5" y="198.4">(−61.60, −61.58]</text>
<rect x="1179.3" y="208" width="24.6" height="24.6" fill="#433e85"/>
<text x="1213.5" y="225.2">(−61.58, −61.56]</text>
<rect x="1179.3" y="234.8" width="24.6" height="24.6" fill="#38588c"/>
<text x="1213.5" y="252">(−61.56, −61.54]</text>
<rect x="1179.3" y="261.6" width="24.6" height="24.6" fill="#2d708e"/>
<text x="1213.5" y="278.8">(−61.54, −61.52]</text>
<rect x="1179.3" y="288.4" width="24.6" height="24.6" fill="#25858e"/>
<text x="1213.5" y="305.6">(−61.52, −61.50]</text>
<rect x="1179.3" y="315.2" width="24.6" height="24.6" fill="#1e9b8a"/>
<text x="1213.5" y="332.4">(−61.50, −61.48]</text>
<rect x="1179.3" y="342" width="24.6" height="24.6" fill="#2ab07f"/>
<text x="1213.5" y="359.2">(−61.48, −61.46]</text>
<rect x="1179.3" y="368.8" width="24.6" height="24.6" fill="#52c569"/>
<text x="1213.5" y="386">(−61.46, −61.44]</text>
<rect x="1179.3" y="395.6" width="24.6" height="24.6" fill="#86d549"/>
<text x="1213.5" y="412.8">(−61.44, −61.42]</text>
<rect x="1179.3" y="422.4" width="24.6" height="24.6" fill="#c2df23"/>
<text x="1213.5" y="439.6">(−61.42, −61.40]</text>
<rect x="1179.3" y="449.2" width="24.6" height="24.6" fill="#fde725"/>
<text x="1213.5" y="466.4">(−61.40, −61.38]</text>
</g>
</g>
<g class="p2">
<path d="M1471,0.8V598M1549,0.8V598M1626.9,0.8V598M1704.8,0.8V598M1782.8,0.8V598M1434.3,138.5H1846.3M1434.3,319.5H1846.3M1434.3,500.5H1846.3" stroke="#ebebeb" stroke-width="0.8" fill="none"/>
<path d="M1510,0.8V598M1587.9,0.8V598M1665.9,0.8V598M1743.8,0.8V598M1821.8,0.8V598M1434.3,48H1846.3M1434.3,229H1846.3M1434.3,410H1846.3M1434.3,591H1846.3" stroke="#ebebeb" stroke-width="1.6" fill="none"/>
<clipPath id="c2"><rect x="1453" y="28" width="375" height="543"/></clipPath>
<g clip-path="url(#c2)">
<rect x="1450.1" y="24.9" width="380.5" height="548.9" fill="#440154"/>
<path d="M1459.7,578 1460.4,578.9 1833.2,578.9 1833.2,19.8 1447.5,19.8 1447.5,561.1Z" fill="#481b6d"/>
<path d="M1474.4,578 1475.1,578.9 1833.2,578.9 1833.2,34.3 1822.8,19.8 1447.5,19.8 1447.5,540.7 1461.1,559.9Z" fill="#46327e"/>
<path d="M1489.9,578 1490.6,578.9 1833.2,578.9 1833.2,57.5 1806.5,19.8 1447.5,19.8 1447.5,519.2 1458.1,534.5 1468.4,549.1 1479,563.6Z" fill="#3f4788"/>
<path d="M1506.2,578 1506.9,578.9 1833.2,578.9 1833.2,81.6 1789.4,19.8 1447.5,19.8 1447.5,496.4 1461.8,517.6 1476.4,538.2 1491.1,558.3Z" fill="#365c8d"/>
<path d="M1523.6,578 1524.4,578.9 1833.2,578.9 1833.2,106.9 1771.6,19.8 1447.5,19.8 1447.5,472.1 1456.8,486.4 1466.1,500.2 1475.5,513.8 1484.9,527 1494.4,540 1503.9,552.7 1513.6,565.4Z" fill="#2e6e8e"/>
<path d="M1542.4,578 1543.1,578.9 1833.2,578.9 1833.2,133.7 1793.1,76.8 1752.8,19.8 1447.5,19.8 1447.5,445.9 1458.7,463.6 1470.3,481.2 1481.8,498.1 1493.5,514.7 1505.5,531.1 1517.8,547.3 1529.9,562.7Z" fill="#277f8e"/>
<path d="M1562.8,578 1563.6,578.9 1833.2,578.9 1833.2,162.3 1808.3,126.5 1783.3,90.8 1758.3,55.5 1732.7,19.8 1447.5,19.8 1447.5,417.3 1453.8,427.8 1460.6,438.7 1467.4,449.6 1474.5,460.4 1481.7,471.3 1488.7,481.6 1495.9,492.1 1503,502 1510.2,512 1517.6,521.9 1524.9,531.5 1532.3,541.1 1539.8,550.5 1547.5,559.9 1555.1,569Z" fill="#21918c"/>
<path d="M1585.6,578 1586.4,578.9 1833.2,578.9 1833.2,193.3 1817.9,170.9 1803,149.1 1787.9,127.4 1772.7,105.7 1757.4,84 1742.1,62.6 1726.5,41 1710.9,19.8 1447.5,19.8 1447.5,385.6 1455.1,398.9 1463.2,412.5 1471.2,425.6 1479.3,438.5 1487.6,451.4 1496.1,464 1504.8,476.7 1513.1,488.5 1521.7,500.3 1530.5,512 1539.6,523.8 1548.6,535 1557.9,546.4 1567.1,557.2 1576.6,568.1Z" fill="#1fa187"/>
<path d="M1611.6,578 1612.5,578.9 1833.2,578.9 1833.2,227.7 1816,201.6 1798.4,175.4 1780.4,149.1 1762,122.7 1743.3,96.4 1724.6,70.5 1705.9,45 1686.9,19.8 1447.5,19.8 1447.5,349.5 1456.5,366.3 1465.6,382.4 1474.9,398.5 1484.3,413.9 1493.6,428.8 1503.6,444.1 1514.1,459.5 1524.3,474 1534.8,488.4 1545.5,502.4 1556.1,515.8 1567.1,529.2 1577.9,541.8 1589.1,554.4 1600.4,566.5Z" fill="#2db27d"/>
<path d="M1642.8,578 1643.9,578.9 1833.2,578.9 1833.2,267 1823.5,251.4 1813.8,236 1803.9,220.6 1793.2,204.3 1782.6,188.4 1772,172.7 1760.8,156.4 1750.1,141 1738.9,125.2 1727.5,109.3 1715.8,93.4 1704.6,78.2 1693.4,63.3 1682.1,48.6 1670.9,34.2 1659.5,19.8 1447.5,19.8 1447.5,306.6 1457.2,326.5 1462.2,336.4 1467.5,346.4 1472.8,356.4 1478,365.9 1483.7,375.8 1489.2,385.3 1494.9,394.9 1500.7,404.3 1506.3,413.4 1512.4,422.8 1518.1,431.5 1524.2,440.5 1530.5,449.5 1536.7,458.3 1543,466.9 1549.2,475.2 1555.9,483.9 1562.3,492.1 1568.9,500.2 1575.4,508.1 1581.8,515.6 1588.5,523.3 1595.4,530.9 1602.1,538.2 1609,545.5 1615.4,551.9 1622.2,558.8 1629.1,565.4 1636,571.8Z" fill="#4ac16d"/>
<path d="M1684.4,578 1685.6,578.9 1833.2,578.9 1833.2,314.8 1823,296.6 1811.9,277.6 1800.5,258.6 1788.2,238.7 1775.8,219.3 1763,199.8 1749.6,179.9 1736.4,161 1722.7,141.7 1709,122.9 1694.8,103.9 1680.9,85.9 1667.2,68.5 1653.4,51.7 1639.7,35.3 1626.2,19.8 1447.5,19.8 1447.5,251.4 1451.5,261.3 1455.6,271.2 1460.7,283.1 1466,294.8 1471.5,306.6 1477.3,318.4 1483.2,330.1 1489.3,341.8 1495.5,353.3 1501.8,364.5 1508.6,376.3 1515.1,387.1 1521.9,398 1528.8,408.8 1536,419.7 1543,429.8 1550.4,440.3 1557.9,450.5 1565.4,460.4 1572.9,469.9 1580.6,479.4 1588.2,488.5 1596,497.4 1603.5,505.7 1611.6,514.3 1619.7,522.7 1627.8,530.7 1635.8,538.2 1643.7,545.5 1652,552.7 1660.3,559.7 1668.4,566.2 1676.5,572.3Z" fill="#73d056"/>
<path d="M1777.9,576.2 1782,576.5 1785.8,576.6 1790.1,576.5 1793.9,576.3 1797.6,575.9 1801.4,575.4 1805.1,574.7 1808.8,573.7 1812.6,572.6 1815.7,571.5 1818.8,570.3 1822,568.8 1825.1,567.1 1827.9,565.4 1830.6,563.6 1833.2,561.5 1833.2,383.8 1827.4,369.9 1821.4,356.4 1814.6,341.9 1807.4,327.4 1799.5,312 1791.4,297 1782.5,281.3 1773.5,265.9 1762.6,247.8 1751.2,229.7 1739.4,211.6 1727.1,193.5 1714.6,175.6 1702.1,158.4 1689.1,141 1676.5,124.9 1664,109.3 1650.9,93.7 1638.5,79.4 1626,65.6 1613.5,52.5 1601.6,40.6 1596,35.2 1589.8,29.4 1578.9,19.8 1447.5,19.8 1447.5,157.6 1450.5,170.9 1453.7,183.4 1457,195.3 1460.6,207.4 1464.5,219.7 1468.7,232 1473.1,244.2 1477.9,256.8 1483,269.5 1488,281.3 1493.7,293.9 1499.3,305.9 1505.4,318.4 1511.7,330.8 1518,342.5 1524.2,353.6 1531.1,365.4 1537.7,376.3 1544.5,387.1 1551.6,398 1558.6,408.2 1566,418.7 1573.4,428.7 1581,438.6 1588.5,448 1596.6,457.7 1604.1,466.4 1611.8,474.9 1619.7,483.2 1627.8,491.4 1636,499.3 1644.1,506.8 1652.2,513.9 1660.8,521 1668.9,527.4 1677.2,533.5 1685.3,539.2 1693.4,544.5 1701.5,549.4 1709.6,554 1717.6,558.1 1725.3,561.8 1733.3,565.2 1741.1,568.1 1748.9,570.6 1756.4,572.7 1763.9,574.3 1770.8,575.5Z" fill="#a0da39"/>
<path d="M1743.6,510.2 1746.4,510.3 1749.6,510.4 1752.7,510.3 1755.8,510 1758.9,509.6 1761.4,509.1 1763.9,508.5 1766.4,507.8 1768.9,507 1771.4,505.9 1773.9,504.7 1776.4,503.3 1778.4,502 1780.8,500.3 1782.6,498.8 1784.5,497 1786.4,495.1 1788.1,493 1789.5,491.2 1791.3,488.5 1792.6,486.3 1793.9,483.9 1795.1,481.2 1796.2,478.5 1797.2,475.8 1798,473.1 1798.7,470.4 1799.5,466.9 1800,464 1800.5,460.4 1801.1,454.1 1801.3,446.8 1801.1,439.6 1800.5,431.5 1799.5,423.3 1798.1,415.2 1796.2,406.1 1794,397.1 1791.4,388 1788.6,379 1785.2,369 1781.4,359.1 1777.1,348.2 1772.4,337.4 1767.5,326.5 1762.2,315.6 1756.3,303.9 1749.6,291.2 1742.5,278.5 1735.2,265.9 1727.5,253.2 1719.5,240.5 1710.9,227.4 1702.1,214.6 1693.6,202.5 1684.6,190.4 1675.9,179 1666.6,167.2 1657.6,156.4 1648.4,145.8 1639.2,135.6 1630.3,126.2 1621.6,117.4 1612.9,109.1 1604.7,101.8 1596.6,95 1588.5,88.6 1581,83.2 1573.5,78.3 1569.8,76 1566,73.9 1559.2,70.4 1555.4,68.7 1552.3,67.5 1549.2,66.3 1546.1,65.3 1543,64.5 1539.8,63.8 1536.7,63.3 1534.2,63 1531.1,62.8 1528.6,62.9 1525.5,63.1 1523,63.5 1520.5,64 1518,64.8 1515.5,65.8 1513.6,66.7 1511.7,67.7 1509.9,68.9 1506.8,71.4 1505,73.1 1503.6,74.6 1501.8,76.8 1500.5,78.6 1498,82.6 1496.8,84.9 1495.5,87.6 1494.4,90.3 1493.4,93 1492.4,96.2 1491.5,99.4 1490.1,105.7 1489.1,112 1488.3,119.3 1487.8,126.5 1487.7,134.7 1487.9,142.8 1488.4,151 1489.2,160 1490.3,169.1 1491.7,178.1 1493.6,188.1 1495.5,197.2 1497.9,207.1 1500.5,217 1503.6,227.9 1506.8,237.8 1510.4,248.7 1514.1,258.6 1518,268.8 1522.4,279.4 1526.7,289.5 1531.7,300.3 1536.5,310.2 1541.5,320.2 1546.7,329.9 1551.8,339.2 1557.3,348.6 1563.1,358.2 1568.8,367.2 1574.8,376.2 1581,385.2 1586.9,393.5 1593.1,401.6 1599.4,409.7 1606,417.7 1612.3,425.1 1618.8,432.4 1625.6,439.6 1632.7,446.8 1639.3,453.2 1646.2,459.5 1653.4,465.8 1660.3,471.4 1667.2,476.6 1673.5,481.2 1680.3,485.7 1687.1,490 1693.9,493.9 1700.9,497.5 1707.1,500.4 1713.4,503 1719.6,505.2 1725.8,507.1 1732.1,508.6 1737.7,509.5Z" fill="#d0e11c"/>
<path d="M1687.8,405.2 1690.9,405.6 1694,405.7 1697.1,405.4 1699.6,405 1702.1,404.2 1704.6,403.1 1707,401.6 1709,400 1710.9,398 1712.2,396.2 1713.8,393.5 1715,390.7 1715.9,388 1716.8,384.4 1717.3,381.7 1717.7,378.1 1717.8,374.5 1717.7,369.9 1717.5,366.3 1717,361.8 1716.3,357.3 1715.5,352.7 1714.4,348.2 1713,342.8 1711.4,337.4 1709.6,331.9 1707.7,326.5 1705.6,321.1 1703.3,315.6 1700.9,310.2 1698.4,304.7 1695.3,298.4 1692.1,292.4 1689,286.7 1685.4,280.3 1681.6,274 1677.8,268 1674,262.3 1670.3,256.8 1665.9,250.7 1661.7,245.1 1657.4,239.6 1653.4,234.7 1649.1,229.6 1645.1,225.2 1640.8,220.6 1636.6,216.3 1632.2,212.1 1628.5,208.7 1624.1,205 1619.7,201.6 1616,198.9 1612.2,196.4 1608.5,194.1 1604.7,192.1 1601,190.4 1597.9,189.2 1594.8,188.2 1591.6,187.6 1588.5,187.2 1585.4,187.2 1582.9,187.5 1580.4,188.1 1577.9,189.2 1576,190.3 1574.2,191.7 1572.4,193.5 1571,195.2 1569.8,197.1 1568.5,199.6 1567.7,201.6 1566.8,204.3 1566,207.4 1565.5,210.7 1565.1,213.4 1564.8,217 1564.7,220.6 1564.8,224.2 1565.3,231.5 1565.7,235.1 1566.3,239.6 1567.1,244.2 1568.1,248.7 1570.3,257.7 1573,266.8 1576.4,276.7 1580.3,286.7 1584.7,296.6 1589.1,305.8 1594.1,315.2 1599.6,324.7 1605.4,333.9 1611.4,342.8 1617.4,350.9 1623.9,359.1 1630.3,366.4 1637.1,373.5 1643.7,379.9 1650.3,385.6 1653.4,388.1 1656.9,390.7 1660.3,393.1 1663.4,395.1 1666.5,397 1669.7,398.7 1672.8,400.3 1675.9,401.7 1679,402.9 1682.1,403.9 1685.3,404.7Z" fill="#fde725"/>
</g>
<circle cx="1640.3" cy="299.4" r="6.5" fill="#f00"/>
<g class="tk" text-anchor="middle">
<text x="1510" y="615.8">0.625</text>
<text x="1587.9" y="615.8">0.650</text>
<text x="1665.9" y="615.8">0.675</text>
<text x="1743.8" y="615.8">0.700</text>
<text x="1821.8" y="615.8">0.725</text>
</g>
<g class="tk" text-anchor="end">
<text x="1426.8" y="52.9">1.3</text>
<text x="1426.8" y="233.9">1.2</text>
<text x="1426.8" y="414.9">1.1</text>
<text x="1426.8" y="595.9">1.0</text>
</g>
<text class="gph" text-anchor="middle" x="1640.3" y="635.3">ϕ</text>
<text class="gla" text-anchor="middle" transform="translate(1400.1,299.4) rotate(-90)">λ</text>
<text class="lt" x="1871.6" y="100.9">level</text>
<g class="ll">
<rect x="1872.7" y="112.8" width="24.6" height="24.6" fill="#440154"/>
<text x="1906.9" y="130">(−62.10, −62.05]</text>
<rect x="1872.7" y="139.6" width="24.6" height="24.6" fill="#481b6d"/>
<text x="1906.9" y="156.8">(−62.05, −62.00]</text>
<rect x="1872.7" y="166.4" width="24.6" height="24.6" fill="#46327e"/>
<text x="1906.9" y="183.6">(−62.00, −61.95]</text>
<rect x="1872.7" y="193.2" width="24.6" height="24.6" fill="#3f4788"/>
<text x="1906.9" y="210.4">(−61.95, −61.90]</text>
<rect x="1872.7" y="220" width="24.6" height="24.6" fill="#365c8d"/>
<text x="1906.9" y="237.2">(−61.90, −61.85]</text>
<rect x="1872.7" y="246.8" width="24.6" height="24.6" fill="#2e6e8e"/>
<text x="1906.9" y="264">(−61.85, −61.80]</text>
<rect x="1872.7" y="273.6" width="24.6" height="24.6" fill="#277f8e"/>
<text x="1906.9" y="290.8">(−61.80, −61.75]</text>
<rect x="1872.7" y="300.4" width="24.6" height="24.6" fill="#21918c"/>
<text x="1906.9" y="317.6">(−61.75, −61.70]</text>
<rect x="1872.7" y="327.2" width="24.6" height="24.6" fill="#1fa187"/>
<text x="1906.9" y="344.4">(−61.70, −61.65]</text>
<rect x="1872.7" y="354" width="24.6" height="24.6" fill="#2db27d"/>
<text x="1906.9" y="371.2">(−61.65, −61.60]</text>
<rect x="1872.7" y="380.8" width="24.6" height="24.6" fill="#4ac16d"/>
<text x="1906.9" y="398">(−61.60, −61.55]</text>
<rect x="1872.7" y="407.6" width="24.6" height="24.6" fill="#73d056"/>
<text x="1906.9" y="424.8">(−61.55, −61.50]</text>
<rect x="1872.7" y="434.4" width="24.6" height="24.6" fill="#a0da39"/>
<text x="1906.9" y="451.6">(−61.50, −61.45]</text>
<rect x="1872.7" y="461.2" width="24.6" height="24.6" fill="#d0e11c"/>
<text x="1906.9" y="478.4">(−61.45, −61.40]</text>
<rect x="1872.7" y="488" width="24.6" height="24.6" fill="#fde725"/>
<text x="1906.9" y="505.2">(−61.40, −61.35]</text>
</g>
</g>
<g class="p3">
<path d="M149.4,789.5V1389.8M275.9,789.5V1389.8M402.4,789.5V1389.8M58.5,880.2H475.8M58.5,1016.6H475.8M58.5,1153H475.8M58.5,1289.4H475.8" stroke="#ebebeb" stroke-width="0.8" fill="none"/>
<path d="M86.2,789.5V1389.8M212.7,789.5V1389.8M339.2,789.5V1389.8M465.7,789.5V1389.8M58.5,812H475.8M58.5,948.4H475.8M58.5,1084.8H475.8M58.5,1221.2H475.8M58.5,1357.6H475.8" stroke="#ebebeb" stroke-width="1.6" fill="none"/>
<clipPath id="c3"><rect x="77" y="817" width="380" height="546"/></clipPath>
<g clip-path="url(#c3)">
<rect x="74.5" y="813.8" width="385.4" height="551.8" fill="#440154"/>
<path d="M112.9,1369.8 116.8,1370.7 381,1370.7 391.1,1368.8 401.8,1366.5 411.9,1364.2 422.1,1361.8 432.2,1359.2 442.3,1356.5 453,1353.5 462.5,1350.7 462.5,808.6 71.8,808.6 71.8,1357.9 81.9,1361.3 92,1364.3 102.1,1367.1Z" fill="#481c6e"/>
<path d="M180.3,1369.8 189.1,1370.7 301.7,1370.7 319,1369 336.7,1366.8 355,1364 373.3,1360.7 391.1,1357.1 409.4,1352.9 427.1,1348.4 444.7,1343.5 462.5,1338 462.5,808.6 79,808.6 71.8,814 71.8,1344.7 83.8,1349 90.1,1351.1 97.1,1353.2 110.3,1357 123.6,1360.3 137.5,1363.3 151.4,1365.8 165.7,1368Z" fill="#453581"/>
<path d="M235.2,1361.7 248.8,1361.7 262.7,1361.5 276.6,1360.9 291.2,1360 305.7,1358.8 320.3,1357.2 334.7,1355.3 348.7,1353.1 362.6,1350.7 377.2,1347.8 391.7,1344.6 406.3,1341.1 420.2,1337.5 434.2,1333.5 448.6,1329 462.5,1324.4 462.5,808.6 107.1,808.6 98.3,814.3 89.4,820.4 80.6,826.9 71.8,833.8 71.8,1330.5 80.6,1334 89.5,1337.3 99,1340.5 108.4,1343.4 118.5,1346.2 128.1,1348.6 138.2,1350.9 148.3,1353 158.4,1354.8 169.1,1356.4 179.9,1357.9 190.6,1359.1 201.4,1360 212.8,1360.8 224.2,1361.3Z" fill="#3d4d8a"/>
<path d="M222.2,1348.9 236.8,1349.4 252,1349.5 266.5,1349.1 281.7,1348.4 296.9,1347.3 312,1345.7 327.2,1343.8 342.4,1341.6 357.6,1338.9 372.7,1335.8 387.9,1332.4 403.1,1328.5 418.1,1324.4 433,1319.8 448,1314.9 462.5,1309.6 462.5,811.9 454.9,808.6 141.3,808.6 132.5,813.2 123,818.5 114.1,823.8 105.3,829.5 96.4,835.6 88.2,841.7 80,848.1 71.8,854.9 71.8,1315 80,1318.7 88.2,1322.1 96.7,1325.3 105.3,1328.3 114.1,1331.1 123,1333.7 132.5,1336.2 142,1338.4 152.1,1340.6 161.6,1342.3 171,1343.9 181.2,1345.3 191.3,1346.5 201.4,1347.5 211.5,1348.3Z" fill="#34618d"/>
<path d="M233.5,1336.2 247.5,1336.4 262.1,1336.2 276,1335.6 290.5,1334.7 305.1,1333.3 319.6,1331.6 334.2,1329.4 348.7,1326.9 363.3,1324 377.8,1320.8 392.3,1317.1 406.3,1313.2 420.3,1308.9 434.7,1304.1 448.9,1298.9 462.5,1293.5 462.5,834.3 449.9,828.4 437.2,823 424,817.8 411.1,813.2 403.7,810.7 396.8,808.6 187.9,808.6 179.9,811.4 172.3,814.3 164.1,817.7 156.5,821 148.9,824.6 141.3,828.5 134.4,832.3 126.8,836.7 119.2,841.3 112.2,845.9 105.3,850.7 98.3,855.7 91.4,861.1 85.1,866.2 78.1,872.1 71.8,877.8 71.8,1298 80,1302.1 88.8,1306.2 97.7,1309.9 107,1313.4 116.7,1316.8 126.3,1319.8 136.3,1322.6 146.4,1325.2 156.5,1327.4 167.3,1329.5 178,1331.3 188.7,1332.7 199.5,1334 210.9,1335 222.3,1335.7Z" fill="#2b748e"/>
<path d="M224.3,1321.6 231.7,1322 239.3,1322.2 253.9,1322.3 269,1321.9 284.2,1321.1 299.4,1319.7 314.6,1318 329.7,1315.7 344.9,1313 360.1,1309.9 375.3,1306.3 389.8,1302.4 405,1297.8 419.5,1292.9 434.1,1287.6 441.7,1284.6 448.6,1281.8 462.5,1275.7 462.5,858.6 453.7,854 444.7,849.5 435.3,845.2 426.5,841.3 414.5,836.5 402.5,832.1 390.4,828.2 378.4,824.7 365.8,821.4 353.8,818.8 341.8,816.6 329.7,814.8 317.7,813.5 305.7,812.6 293.7,812.1 281.7,812.1 269.7,812.6 258.3,813.5 252.6,814.1 246.3,814.9 234.9,816.6 223.5,818.8 212.1,821.5 200.8,824.7 190,828.1 179.3,832 168.5,836.4 157.8,841.3 147.7,846.4 137.5,852 127.4,858.1 117.3,864.8 107.8,871.6 98.7,878.6 89.5,886.3 80.6,894.3 71.8,902.9 71.8,1278.8 79.7,1283.4 87.6,1287.6 95.8,1291.6 104.7,1295.5 113.5,1299.1 122.8,1302.5 131.8,1305.5 141.3,1308.3 150.8,1310.8 160.9,1313.2 171.2,1315.3 181.6,1317.1 191.9,1318.6 202.7,1319.9 213.4,1320.9Z" fill="#24878e"/>
<path d="M224,1306.2 231.1,1306.6 238.7,1306.9 246.3,1307 253.9,1307 261.5,1306.9 269,1306.7 276.6,1306.3 284.2,1305.8 291.8,1305.1 299.6,1304.3 307.3,1303.4 315.2,1302.4 322.8,1301.2 331,1299.8 338.6,1298.4 346.2,1296.9 353.8,1295.2 361.4,1293.4 368.9,1291.4 376.5,1289.4 384.4,1287.1 391.7,1284.8 398.7,1282.5 406.6,1279.8 414.1,1277.1 421.1,1274.3 427.9,1271.6 435.3,1268.4 442.5,1265.2 449.2,1262.1 455.8,1258.9 462.5,1255.4 462.5,885.4 451,878.6 439.1,872.2 432.8,869 426.5,866 420.4,863.2 414.1,860.5 402.9,855.9 391.1,851.5 379.4,847.7 367.7,844.3 355.7,841.3 343.7,838.8 332,836.8 320.3,835.2 308.2,834.1 296.9,833.4 290.5,833.3 284.9,833.2 273.5,833.5 262.1,834.2 250.7,835.4 239.3,837 227.9,839.1 222.3,840.3 216.6,841.7 205.8,844.6 195.1,848 184.3,851.9 178.9,854.1 173.6,856.3 163.5,861 153.3,866.1 143.2,871.8 133.6,877.7 128.7,881 123.6,884.5 114.2,891.4 105.3,898.5 96.4,906.1 87.9,914.1 79.8,922.3 71.8,931 71.8,1256.7 78.8,1261.6 87,1266.8 95.2,1271.5 103.4,1275.8 111.8,1279.8 121.1,1283.8 130.6,1287.4 140.1,1290.7 149.5,1293.6 159.7,1296.3 170.4,1298.8 180.5,1300.8 191.3,1302.6 202,1304.1 212.8,1305.3Z" fill="#1f998a"/>
<path d="M234.1,1289.8 241.2,1290.1 248.8,1290.2 255.8,1290.2 263.4,1290.1 270.9,1289.8 278.5,1289.4 286.1,1288.8 293.7,1288.1 301.3,1287.2 308.9,1286.2 316.5,1285.1 324.1,1283.8 331.6,1282.4 339.2,1280.8 346.8,1279.1 353.8,1277.4 361.4,1275.3 368.3,1273.4 375.9,1271.1 382.9,1268.8 390.4,1266.2 397.4,1263.7 404.4,1261 411.3,1258.1 418,1255.2 424.6,1252.2 431.5,1248.9 437.9,1245.7 444,1242.5 450.6,1238.9 456.8,1235.2 462.5,1231.7 462.5,915.8 453.6,909.6 443.6,903.1 433.4,897.1 422.9,891.4 412.6,886.2 401.8,881.3 391.1,876.9 380.3,872.9 369.6,869.3 358.8,866.2 348.1,863.5 337.3,861.2 326.6,859.3 315.2,857.8 304.5,856.8 293.7,856.2 283,856 272.2,856.3 261.5,856.9 250.7,858.1 240.5,859.5 229.8,861.5 219.7,863.9 209.6,866.6 200.1,869.6 190,873.3 179.9,877.5 170.4,881.8 160.9,886.7 151.4,892 142.6,897.5 133.7,903.5 124.9,910 116.3,916.8 107.9,924.1 100.2,931.4 92.6,939.1 85.6,946.9 78.7,955.1 71.8,963.9 71.8,1229.9 75.6,1233.4 78.8,1236.1 82.5,1239.2 86.8,1242.5 94.5,1247.9 98.7,1250.7 103.4,1253.6 107.8,1256.1 112.8,1258.9 121.8,1263.4 126.8,1265.7 131.8,1267.9 142,1271.9 147,1273.7 152.7,1275.6 163.5,1278.8 174.5,1281.6 186.2,1284.1 198,1286.2 209.6,1287.7 221.6,1289Z" fill="#25ac82"/>
<path d="M231.6,1270.7 239.3,1271.1 246.9,1271.4 254.5,1271.5 262.1,1271.4 269.7,1271.1 277.9,1270.6 286.1,1270 293.7,1269.2 301.3,1268.2 309.4,1267.1 317.1,1265.7 324.7,1264.3 332.9,1262.5 340.5,1260.7 348.1,1258.8 355.7,1256.6 363.3,1254.3 371.3,1251.6 378.9,1248.9 386,1246.1 393,1243.3 400.6,1240 406.9,1237 413.8,1233.6 420.8,1229.9 427.1,1226.4 433.8,1222.5 439.6,1218.8 445.5,1215 451.7,1210.7 456.8,1206.9 462.5,1202.4 462.5,951.9 457.8,947.8 453,943.8 448,939.7 443.1,935.9 438.1,932.3 432.9,928.7 427.7,925.3 422.7,922.1 417,918.7 411.9,915.8 406.3,912.7 400.6,909.7 394.9,907 389.2,904.3 383.5,901.9 377.8,899.6 367,895.6 356.3,892.1 345.6,889.1 339.9,887.7 334.2,886.4 328.5,885.3 322.8,884.3 312,882.7 306.4,882.1 300.7,881.6 289.9,881 284.2,880.9 278.5,880.9 267.8,881.3 262.7,881.6 257,882.1 251.3,882.8 246.3,883.5 241.2,884.3 235.5,885.3 229.8,886.5 224.8,887.7 214.6,890.5 209,892.2 203.9,893.9 198.9,895.7 193.8,897.7 188.7,899.7 183.7,902 178.6,904.4 173.6,906.8 168.5,909.6 164.1,912 159,915 154.6,917.8 150.2,920.6 145.1,924.1 136.5,930.5 131.9,934.1 128.1,937.3 123.6,941.2 119.8,944.6 115.6,948.7 111.9,952.3 107.8,956.6 104.2,960.5 97.1,968.8 93.5,973.2 90,977.8 86.7,982.3 83.5,986.9 80.5,991.4 77.5,996.2 74.3,1001.4 71.8,1006 71.8,1194.1 74.9,1198.4 78.1,1202.3 81.3,1206.1 84.7,1209.7 88.2,1213.4 92,1217 96.1,1220.7 100.2,1224.1 104.7,1227.6 108.8,1230.7 112.9,1233.5 117.3,1236.3 121.7,1239 126.8,1241.9 131.8,1244.6 136.9,1247.1 142,1249.4 147,1251.6 152.7,1253.9 158.4,1256 164.1,1258 169.8,1259.7 175.5,1261.4 181.2,1262.9 187.3,1264.3 193.2,1265.6 199.5,1266.8 205.8,1267.8 212.1,1268.7 218.5,1269.5 224.8,1270.1Z" fill="#40bd72"/>
<path d="M246.9,1249.8 254.5,1249.9 262.7,1249.8 270.3,1249.5 278.5,1249 286.8,1248.3 294.3,1247.4 302.6,1246.2 310.1,1244.9 317.8,1243.4 325.9,1241.6 333.5,1239.7 341.1,1237.5 348.7,1235.2 356.3,1232.7 363.9,1229.9 371,1227 377.8,1224.1 385.2,1220.7 392.3,1217.1 398.7,1213.7 405.6,1209.7 411.5,1206.1 417.6,1202.1 423.6,1197.9 429.6,1193.4 434.7,1189.3 439.8,1184.9 444.8,1180.3 449.9,1175.2 454.2,1170.6 458.2,1166.1 462.5,1160.7 462.5,1000.6 457.5,993.9 451.7,986.9 445.5,979.9 438.8,973.2 431.9,966.9 424.6,960.7 417.4,955.1 409.4,949.4 401.4,944.1 393,939.1 384.8,934.7 375.9,930.3 367,926.4 358.2,923 348.7,919.7 339.9,917 329.7,914.4 324.7,913.3 319.5,912.3 314.1,911.4 308.9,910.6 298.8,909.5 293.1,909.1 288,908.8 277.9,908.6 272.2,908.8 267.2,909 262.1,909.4 257,909.8 252,910.4 246.9,911.1 241.9,912 236.8,913 231.7,914.1 226.7,915.3 217.2,918 212.1,919.6 207.2,921.4 197.9,925 193.2,927.1 188.1,929.5 179.3,934 174.8,936.5 170.4,939.1 166,941.9 161.6,944.8 157.3,947.8 153.3,950.7 148.9,954.1 145.1,957.2 141.2,960.5 137.1,964.1 133.3,967.8 129.6,971.4 122.8,978.7 119.2,982.8 115.8,986.9 112.9,990.5 109.4,995.1 106.2,999.6 103.4,1003.8 100.8,1007.8 98,1012.4 95.4,1016.9 93,1021.5 90.7,1026 88.5,1030.5 86.5,1035.1 84.6,1039.6 82.8,1044.2 81.2,1048.7 79.4,1054.2 78.1,1058.7 76.8,1063.4 75.6,1068.8 74.6,1073.3 73.8,1077.8 73.2,1082.4 72.6,1086.9 72.2,1091.5 71.9,1096 71.8,1100.6 71.8,1105.9 72.2,1114.2 72.6,1118.8 73.1,1123.3 73.7,1127 74.5,1131.5 75.5,1136.1 76.5,1139.7 77.5,1143.3 79,1147.9 80.6,1152.4 82.1,1156.1 83.8,1160 85.7,1164 87.7,1167.9 89.8,1171.5 92,1175.2 94.4,1178.8 99,1185.2 101.9,1188.8 104.7,1192 107.6,1195.2 110.3,1198 113.5,1201.1 117,1204.3 120.2,1207 123.6,1209.8 127.2,1212.5 131.2,1215.4 135.1,1217.9 139.4,1220.7 143.2,1222.9 147.4,1225.2 152.1,1227.6 156.5,1229.7 165,1233.4 169.7,1235.2 174.2,1236.9 183.7,1239.9 188.7,1241.4 193.8,1242.7 203.9,1244.9 214,1246.7 224.8,1248.2 235.5,1249.2Z" fill="#67cc5c"/>
<path d="M239.2,1223.4 246.9,1223.9 255.1,1224.1 262.7,1224.1 270.9,1223.8 278.5,1223.2 286.8,1222.4 295,1221.2 303.2,1219.8 311.4,1218.1 319.5,1216.1 327.2,1213.9 334.7,1211.6 342.4,1208.8 349.3,1206.1 356.9,1202.8 363.9,1199.5 370.8,1195.9 377.8,1191.9 384.2,1187.9 390.4,1183.7 396.1,1179.5 401.8,1174.9 407.5,1169.9 412.5,1165.2 417,1160.4 421.6,1155.2 425.9,1149.7 429.6,1144.4 433.2,1138.8 436.3,1133.3 439,1127.9 441.4,1122.4 443.6,1116.5 445.3,1110.6 446.7,1104.9 447.8,1098.8 448.5,1093.3 448.9,1086.9 449,1081.5 448.6,1075.1 447.9,1068.8 446.8,1062.4 445.5,1056.4 443.8,1050.6 441.7,1044.5 439.3,1038.7 436.6,1033 433.4,1026.9 429.6,1020.7 425.9,1015.1 421.9,1009.6 417.6,1004.4 413.2,999.4 408.2,994.2 403.1,989.3 397.4,984.3 391.5,979.6 385.4,975.1 379.7,971.3 373.4,967.3 367,963.7 360.7,960.5 353.8,957.2 346.8,954.2 338.6,951.2 329.7,948.3 320.9,946 312.7,944.2 304.5,942.8 295.6,941.7 286.8,941 277.9,940.7 269,940.9 260.2,941.5 251.3,942.6 243.1,944 234.9,945.8 226.7,948 218.5,950.6 210.2,953.7 202,957.3 194.4,961 186.9,965.2 179.3,970 172,975.1 164.9,980.5 158.4,986.1 152.1,992.1 145.8,998.7 140.3,1005.1 135,1011.8 130.1,1018.7 125.5,1026 121.4,1033.3 117.8,1040.6 116,1044.5 114.3,1048.7 111.6,1056 110.3,1059.8 109.1,1064.2 107.2,1071.7 105.7,1079.7 104.7,1087.5 104.1,1095.1 104,1099.7 104.1,1103.3 104.5,1110.6 105.3,1117.9 106.6,1125.2 107.5,1128.8 108.4,1132.4 109.6,1136.1 110.8,1139.7 112.2,1143.3 113.7,1147 116.8,1153.3 118.6,1156.5 120.5,1159.7 122.4,1162.7 124.7,1166.1 126.8,1168.9 129.3,1172.1 131.9,1175.2 134.4,1177.9 139.4,1182.9 145,1187.9 150.8,1192.5 157.3,1197 160.9,1199.3 164.7,1201.5 171.7,1205.3 179.3,1208.8 186.9,1211.9 195.1,1214.8 203.3,1217.2 212.1,1219.4 221,1221.1 229.8,1222.4Z" fill="#98d83e"/>
<path d="M254.7,1190.6 260.8,1190.7 266.5,1190.6 272.2,1190.3 278.5,1189.7 284.9,1188.9 290.5,1188 296.2,1186.9 301.9,1185.6 307.6,1184 313.3,1182.3 319,1180.3 324.7,1178.1 329.7,1176 335.2,1173.4 340.5,1170.6 345.3,1167.9 350,1165 355,1161.5 358.8,1158.7 363.2,1155.2 367.4,1151.5 371.1,1147.9 374.6,1144.3 377.8,1140.6 381,1136.5 383.9,1132.4 386.6,1128.1 388.8,1124.2 391.1,1119.7 393.1,1115.1 394.8,1110.6 396.1,1106 397.2,1101.5 398.1,1097 398.6,1092.4 398.9,1087.9 399,1083.3 398.7,1077.9 398.1,1073.3 397.4,1068.8 396.3,1064.2 395,1059.7 393.4,1055.1 391.5,1050.6 389.4,1046 386.9,1041.5 384.1,1036.9 381.7,1033.3 378.4,1028.9 375.3,1025.1 372,1021.5 368.3,1017.7 364.5,1014.2 360.2,1010.5 355.7,1007 351.7,1004.2 347.4,1001.4 342.4,998.4 337.3,995.7 332.3,993.3 327.2,991 322.2,989.1 316.5,987.1 311.4,985.6 305.1,984 298.8,982.8 292.4,981.8 286.1,981.1 279.2,980.7 272.8,980.6 266.5,980.8 260.2,981.3 253.9,982.1 247.5,983.2 241.2,984.7 234.9,986.4 228.6,988.5 222.9,990.6 217.2,993.1 211.5,995.9 205.8,999.1 200.5,1002.4 195.2,1006 190,1010 185,1014.2 180.2,1018.7 175.8,1023.3 171.8,1027.8 167.9,1032.7 164.2,1037.8 160.8,1043.3 157.8,1048.6 155,1054.2 152.6,1059.7 150.6,1065.1 148.9,1070.6 147.6,1076 146.4,1082.2 145.7,1087.9 145.3,1093.3 145.3,1098.8 145.5,1104.2 146.2,1109.7 147.1,1115.1 148.3,1119.9 149.9,1125.2 152,1130.6 154.1,1135.2 156.5,1139.7 159.7,1144.7 162.8,1149.1 166.3,1153.3 170.4,1157.7 174.2,1161.3 178.6,1165.1 183.1,1168.4 187.8,1171.5 193.2,1174.7 198.2,1177.3 203.9,1179.9 210.2,1182.4 215.9,1184.3 222.3,1186.1 227.9,1187.4 234.9,1188.7 241.2,1189.6 248.2,1190.3Z" fill="#cde11d"/>
<path d="M258.4,1133.3 263.4,1133.6 267.8,1133.5 272.2,1133.1 277.3,1132.3 281.7,1131.3 286.8,1129.7 291.4,1127.9 295.6,1125.8 299.9,1123.3 303.2,1121 307,1117.9 309.8,1115.1 311.4,1113.3 312.9,1111.5 315.2,1108.3 316.5,1106 317.5,1104.2 319,1100.8 320.3,1097 321,1093.3 321.4,1090.6 321.5,1088.8 321.5,1085.1 321,1081.5 320.2,1077.8 319,1074.2 317.4,1070.6 315.3,1066.9 312.7,1063.3 310.1,1060.4 307,1057.4 303.8,1054.9 300,1052.4 296.2,1050.3 291.8,1048.3 289.3,1047.4 286.8,1046.6 284.2,1046 281.1,1045.3 278.5,1044.9 275.4,1044.5 272.8,1044.4 269.7,1044.3 267.2,1044.4 264,1044.6 260.8,1045 258.3,1045.4 255.7,1046 252.6,1046.8 247.5,1048.6 245,1049.7 242.5,1050.9 240,1052.2 237.4,1053.8 235.4,1055.1 233,1056.9 230.8,1058.7 228.9,1060.6 227.1,1062.4 225.4,1064.2 223.5,1066.6 222,1068.8 220.4,1071.4 219.3,1073.3 218.4,1075.1 217.3,1077.8 216.6,1079.8 215.8,1082.4 215.3,1084.5 214.9,1086.9 214.6,1089.7 214.5,1092.4 214.6,1095.1 214.8,1097 215.2,1099.7 215.6,1101.5 216.4,1104.2 217.1,1106 217.9,1107.9 219.1,1110.3 220.4,1112.4 221.6,1114.2 223,1116.1 224.6,1117.9 226.4,1119.7 228.4,1121.5 230.5,1123.2 232.4,1124.5 234.8,1126.1 236.8,1127.1 239.3,1128.4 241.9,1129.5 244.4,1130.4 246.9,1131.2 249.4,1131.9 252.6,1132.5 255.8,1133Z" fill="#fde725"/>
</g>
<circle cx="267.2" cy="1089.7" r="6.5" fill="#f00"/>
<g class="tk" text-anchor="middle">
<text x="86.2" y="1407.8">0.6</text>
<text x="212.7" y="1407.8">0.7</text>
<text x="339.2" y="1407.8">0.8</text>
<text x="465.7" y="1407.8">0.9</text>
</g>
<g class="tk" text-anchor="end">
<text x="50.9" y="816.9">0.45</text>
<text x="50.9" y="953.3">0.40</text>
<text x="50.9" y="1089.7">0.35</text>
<text x="50.9" y="1226.1">0.30</text>
<text x="50.9" y="1362.5">0.25</text>
</g>
<text class="gth" text-anchor="middle" x="267.1" y="1427.8">ϑ</text>
<text class="gph" text-anchor="middle" transform="translate(11.9,1089.7) rotate(-90)">ϕ</text>
<text class="lt" x="501.1" y="904.4">level</text>
<g class="ll">
<rect x="502.2" y="916.3" width="24.6" height="24.6" fill="#440154"/>
<text x="536.4" y="933.5">(−77.8, −77.6]</text>
<rect x="502.2" y="943.1" width="24.6" height="24.6" fill="#481c6e"/>
<text x="536.4" y="960.3">(−77.6, −77.4]</text>
<rect x="502.2" y="969.9" width="24.6" height="24.6" fill="#453581"/>
<text x="536.4" y="987.1">(−77.4, −77.2]</text>
<rect x="502.2" y="996.7" width="24.6" height="24.6" fill="#3d4d8a"/>
<text x="536.4" y="1013.9">(−77.2, −77.0]</text>
<rect x="502.2" y="1023.5" width="24.6" height="24.6" fill="#34618d"/>
<text x="536.4" y="1040.8">(−77.0, −76.8]</text>
<rect x="502.2" y="1050.3" width="24.6" height="24.6" fill="#2b748e"/>
<text x="536.4" y="1067.6">(−76.8, −76.6]</text>
<rect x="502.2" y="1077.1" width="24.6" height="24.6" fill="#24878e"/>
<text x="536.4" y="1094.4">(−76.6, −76.4]</text>
<rect x="502.2" y="1103.9" width="24.6" height="24.6" fill="#1f998a"/>
<text x="536.4" y="1121.2">(−76.4, −76.2]</text>
<rect x="502.2" y="1130.7" width="24.6" height="24.6" fill="#25ac82"/>
<text x="536.4" y="1148">(−76.2, −76.0]</text>
<rect x="502.2" y="1157.5" width="24.6" height="24.6" fill="#40bd72"/>
<text x="536.4" y="1174.8">(−76.0, −75.8]</text>
<rect x="502.2" y="1184.3" width="24.6" height="24.6" fill="#67cc5c"/>
<text x="536.4" y="1201.6">(−75.8, −75.6]</text>
<rect x="502.2" y="1211.1" width="24.6" height="24.6" fill="#98d83e"/>
<text x="536.4" y="1228.4">(−75.6, −75.4]</text>
<rect x="502.2" y="1237.9" width="24.6" height="24.6" fill="#cde11d"/>
<text x="536.4" y="1255.2">(−75.4, −75.2]</text>
<rect x="502.2" y="1264.7" width="24.6" height="24.6" fill="#fde725"/>
<text x="536.4" y="1282">(−75.2, −75.0]</text>
</g>
</g>
<g class="p4">
<path d="M795.2,789.5V1389.8M909.8,789.5V1389.8M1024.5,789.5V1389.8M1139.1,789.5V1389.8M749.5,898.2H1153M749.5,1034.6H1153M749.5,1171H1153M749.5,1307.4H1153" stroke="#ebebeb" stroke-width="0.8" fill="none"/>
<path d="M852.5,789.5V1389.8M967.1,789.5V1389.8M1081.8,789.5V1389.8M749.5,830H1153M749.5,966.4H1153M749.5,1102.8H1153M749.5,1239.2H1153M749.5,1375.6H1153" stroke="#ebebeb" stroke-width="1.6" fill="none"/>
<clipPath id="c4"><rect x="768" y="817" width="367" height="546"/></clipPath>
<g clip-path="url(#c4)">
<rect x="764.8" y="813.8" width="372.8" height="551.8" fill="#440154"/>
<path d="M762.3,1370.7 1135.5,1370.7 1140.1,1354.8 1140.1,808.6 772.7,808.6 767.2,832.3 762.3,855.1Z" fill="#481c6e"/>
<path d="M762.3,1370.7 1123.9,1370.7 1128.1,1357.1 1132.3,1342.5 1136.3,1328 1140.1,1313.5 1140.1,808.6 783,808.6 777.5,831.3 772.1,855.4 767,879.6 762.3,904.2Z" fill="#453581"/>
<path d="M763.4,1369.8 763.6,1370.7 1111.6,1370.7 1115.7,1358.2 1119.4,1346.2 1123.1,1333.5 1127,1319.8 1130.3,1307.1 1133.8,1293.4 1137,1279.8 1140.1,1266 1140.1,808.6 794.1,808.6 789.4,826.8 784.9,845.2 780.6,864.1 776.4,883.9 772.7,902.3 768.9,922.3 765.5,942.3 762.3,962.5 762.3,1364.2Z" fill="#3d4d8a"/>
<path d="M776,1370.7 1098.3,1370.7 1104.7,1352.3 1110.8,1333 1116.5,1313.4 1121.8,1293.4 1127,1272.5 1131.7,1251.6 1136.1,1229.8 1140.1,1207.8 1140.1,811.3 1139.6,808.6 806.1,808.6 802.3,822.2 798.6,835.9 795.2,849.5 791.6,864.3 788.4,878.6 785.2,893.2 782.2,907.8 779.4,922.3 776.8,936.9 774.3,951.4 771.9,966 769.6,981.5 767.6,996 765.6,1011.4 763.8,1026.9 762.3,1041.6 762.3,1290.8 763.5,1300.7 765,1311.6 766.6,1322 768.3,1332.5 770.1,1342.5 772,1352.6 773.9,1361.7Z" fill="#34618d"/>
<path d="M789.5,1370.7 1083.9,1370.7 1088.8,1357.9 1093.6,1344 1098.4,1329.8 1102.9,1315.3 1107.1,1300.7 1111.3,1285.2 1115.2,1269.8 1118.8,1254.3 1122.4,1238 1125.5,1222.5 1128.5,1206.1 1131.3,1189.7 1134,1172.5 1136.2,1156.1 1138.3,1139.7 1140.1,1122.8 1140.1,899.2 1138.8,887.7 1137.2,875.9 1135.5,864.1 1133.8,853.2 1131.8,841.3 1129.7,830.4 1127.5,819.5 1125.1,808.6 819.1,808.6 814.2,825 809.3,842.3 804.5,860.5 800.2,878.1 796.1,895.9 792.2,914.2 788.6,932.9 785.1,952.3 781.9,971.4 779,990.5 776.5,1009.6 774.2,1028.7 772.2,1047.8 770.4,1066.9 769,1086 767.9,1104.2 767.1,1123.3 766.5,1141.5 766.3,1159.7 766.3,1177.9 766.7,1196.1 767.3,1213.4 768.2,1230.7 769.4,1247 770.9,1263.4 772.7,1280 774.8,1296.2 777.1,1311.6 779.8,1327.1 782.6,1341.6 785.9,1356.2Z" fill="#2b748e"/>
<path d="M804.5,1370.7 1068,1370.7 1074,1356.2 1079.6,1341.5 1085.1,1326 1090.6,1309.1 1095.6,1292.5 1100.4,1275.3 1104.7,1258.5 1108.8,1240.7 1112.7,1222.5 1116.2,1204.3 1119.4,1186.1 1122.3,1167 1124.8,1148.8 1127.1,1129.7 1129,1110.6 1130.6,1091.5 1131.8,1072.4 1132.7,1053.3 1133.2,1034.2 1133.4,1016 1133.2,996.9 1132.7,978.7 1131.9,960.5 1130.7,942.3 1129.1,924.1 1127.3,906.8 1125.1,889.6 1122.5,872.3 1119.7,855.9 1116.5,839.5 1113.1,824.1 1109.2,808.6 833.5,808.6 828.1,825 822.8,842.2 817.9,859.3 813.3,876.8 808.8,895 804.7,913.2 800.8,931.6 797.2,950.5 793.8,969.6 790.8,988.7 788,1008.6 785.6,1027.8 783.5,1046.9 781.7,1066 780.2,1085.1 779.1,1104.2 778.3,1123.3 777.8,1141.5 777.6,1160.6 777.8,1178.8 778.3,1197 779.1,1214.3 780.2,1231.6 781.7,1248.9 783.4,1265.2 785.5,1281.9 787.9,1298 790.6,1313.4 793.7,1328.9 797.1,1343.5 800.6,1357.1Z" fill="#24878e"/>
<path d="M821.3,1369.8 821.6,1370.7 1049.9,1370.7 1050.9,1368.9 1057.1,1355.3 1063.3,1340.7 1069.2,1325.6 1074.7,1310.3 1080.2,1293.6 1085.1,1277.4 1090,1259.8 1094.3,1242.5 1098.5,1224.3 1102.2,1206.1 1105.6,1187.9 1108.7,1168.8 1111.5,1149.7 1113.8,1130.6 1115.8,1111.5 1117.4,1091.5 1118.6,1072.4 1119.4,1053.3 1119.9,1034.2 1120,1015.1 1119.6,996 1118.9,976.9 1117.8,958.7 1116.3,940.5 1114.5,922.3 1112.3,905 1109.7,887.7 1106.8,871.4 1103.4,854.8 1099.8,838.9 1095.7,823.2 1091.4,808.6 849.8,808.6 844.2,823.7 838.7,839.6 833.2,856.8 828.1,874.1 823.4,891.4 818.7,910.5 814.5,928.7 810.6,947.4 806.9,966.8 803.6,986 800.7,1005.1 798.1,1025.1 795.9,1044.2 793.9,1064.2 792.3,1084.2 791.2,1103.3 790.4,1122.4 789.9,1141.5 789.9,1160.6 790.2,1178.8 790.8,1197 791.8,1215.2 793.2,1232.5 795,1249.8 797.1,1267.1 799.6,1283.3 802.3,1298.9 805.5,1314.4 808.9,1328.9 812.8,1343.5 817,1357.1Z" fill="#1f998a"/>
<path d="M841.7,1369.8 842.1,1370.7 1028.5,1370.7 1031.9,1364.9 1035.2,1358.9 1038.5,1352.6 1041.7,1346.1 1044.7,1339.7 1047.8,1333 1050.9,1326 1053.8,1318.9 1059.1,1305.3 1064.3,1290.8 1069.2,1276 1073.8,1260.7 1078.1,1245.2 1082,1229.7 1085.8,1213.4 1089.3,1196.1 1092.5,1178.8 1095.3,1161.5 1097.8,1144.3 1099.9,1127 1101.7,1109.7 1103.1,1092.4 1104.2,1075.1 1105,1056.9 1105.4,1039.6 1105.4,1022.4 1105.1,1005.1 1104.5,987.8 1103.5,971.4 1102.2,955 1100.5,938.7 1098.5,922.3 1096.2,906.8 1093.5,891.4 1090.3,875.9 1087,861.4 1083.3,847.1 1079.5,834.1 1075.3,821.3 1070.7,808.6 869.1,808.6 865,817.7 860.7,827.9 857.7,835.5 854.7,843.2 849.1,858.9 843.6,875.7 838.7,891.9 833.8,909.6 829.5,926.6 825.3,945 821.5,963.2 817.9,982.3 814.9,1000.9 812,1020.5 809.6,1039.6 807.5,1059.2 805.9,1078.8 804.6,1097.9 803.7,1117 803.3,1136.1 803.2,1154.3 803.5,1172.5 804.2,1190.6 805.4,1208.8 806.9,1226.1 808.7,1242.5 810.9,1258.9 813.5,1274.3 816.4,1289.8 819.8,1304.6 821.6,1311.9 823.5,1318.9 825.3,1325.3 827.5,1332.5 829.6,1338.9 832,1345.9 834.4,1352.5 836.6,1358 839.2,1364.4Z" fill="#25ac82"/>
<path d="M868.4,1369.8 869,1370.7 1000.7,1370.7 1005,1365.3 1008.7,1360.2 1012.7,1354.4 1016.6,1348.2 1020.6,1341.6 1024.6,1334.7 1028.2,1327.8 1031.8,1320.7 1035.3,1313.4 1038.6,1306.1 1042.1,1298 1045.4,1289.8 1048.4,1281.9 1051.5,1273.4 1054.5,1264.6 1057.5,1255.2 1061.6,1241.6 1065.5,1227.4 1069,1213.4 1072.3,1198.8 1075.3,1184.2 1078.1,1168.8 1080.6,1153.3 1082.8,1137.9 1084.7,1122.4 1086.3,1106 1087.5,1090.6 1088.5,1075.1 1089.1,1059.7 1089.4,1044.2 1089.5,1028.7 1089.2,1013.3 1088.5,997.8 1087.7,983.2 1086.5,968.7 1085,954.1 1083.1,939.6 1081.1,925.9 1078.7,912.3 1075.9,898.7 1073,885.9 1069.8,873.8 1066.2,861.4 1062.5,850 1058.3,838.6 1053.9,827.7 1049.6,818.3 1044.8,808.6 893.5,808.6 888.2,817.7 882.7,828 877.2,839.3 872.3,850.1 867.4,861.9 862.6,874.6 857.9,887.7 853.5,901.4 849.1,915.9 844.8,931.4 840.7,947.8 837,964.1 833.6,980.5 830.6,996.9 827.8,1014.2 825.5,1030.5 823.4,1047.8 821.6,1065 820.2,1081.5 819.1,1098.8 818.4,1116.1 818,1132.4 818,1149.7 818.3,1166.1 819,1182.5 820.1,1197.9 821.4,1213.4 823.2,1228.8 825.3,1243.5 827.7,1257.9 830.4,1271.6 833.3,1284.3 836.7,1297.1 840.2,1308.9 844.2,1320.6 846.3,1326.2 848.5,1331.8 852.8,1341.7 855.2,1346.8 857.7,1351.7 860.6,1357.1 863.2,1361.6 865.6,1365.6Z" fill="#40bd72"/>
<path d="M926.9,1369.8 929.8,1370.2 932.2,1370.4 934.7,1370.4 937.8,1370.3 940.8,1370 943.3,1369.6 946.3,1369 948.8,1368.4 951.8,1367.4 954.3,1366.5 957.1,1365.3 959.8,1364 962.6,1362.6 965.3,1361 970.2,1357.8 973.2,1355.5 975.7,1353.5 980.9,1348.9 986,1343.8 991.3,1338 996.4,1331.7 1001.3,1325.1 1006.2,1317.8 1011.1,1309.9 1015.8,1301.6 1020.3,1293 1024.6,1284.1 1028.8,1274.5 1033,1264.3 1036.8,1254.4 1040.5,1244 1044.1,1232.7 1047.4,1221.6 1050.7,1209.7 1053.6,1197.9 1056.3,1186.1 1058.8,1174.3 1061.2,1161.5 1063.2,1149.7 1065,1137 1066.7,1124.2 1068.1,1111.5 1069.2,1098.8 1070.2,1085.1 1070.9,1072.4 1071.3,1059.7 1071.5,1046.9 1071.4,1034.2 1071.1,1021.5 1070.6,1008.7 1069.8,996.2 1068.8,984.2 1067.6,972.3 1066.1,960.5 1064.3,948.7 1062.4,937.8 1060.3,926.9 1057.8,915.9 1055.1,905.3 1052.2,895 1049,885 1046,876.2 1042.3,866.8 1038.8,858.6 1035,850.6 1031,843.2 1027,836.3 1022.6,829.5 1017.9,823.2 1013.6,818 1011.1,815.3 1008.7,812.8 1004,808.6 932.7,808.6 929.8,811 926.7,813.8 923.7,816.7 920.6,819.9 917.6,823.4 914.5,827 911.5,831 908.5,835 906,838.6 902.9,843.3 897.4,852.3 891.9,862.3 887,872.1 882.1,882.8 877.2,894.4 872.5,906.8 868,919.6 863.8,932.9 860,946 856.3,959.6 852.8,974.4 849.7,988.7 846.7,1004.2 844,1019.6 841.7,1035.1 839.7,1050.6 838.1,1066 836.8,1080.6 835.8,1096 835.1,1111.5 834.8,1126.1 834.8,1141.5 835.1,1156.1 835.7,1170.6 836.7,1185.2 838,1198.8 839.6,1212.5 841.4,1225.2 843.6,1237.9 846.2,1250.7 849,1262.5 852.2,1274 855.7,1285.2 859.3,1295.2 863.2,1304.9 865.3,1309.8 867.4,1314.3 871.8,1322.5 874.2,1326.8 876.6,1330.7 879.1,1334.5 881.5,1338 884,1341.2 886.5,1344.4 889.5,1347.7 891.9,1350.3 894.3,1352.7 897.4,1355.5 899.8,1357.5 902.9,1359.8 905.7,1361.7 908.4,1363.3 911.5,1364.9 914.5,1366.3 917.6,1367.5 920.6,1368.5 923.7,1369.2Z" fill="#67cc5c"/>
<path d="M931,1321.6 933.5,1321.9 935.9,1322.1 938.4,1322 940.8,1321.9 943.3,1321.6 945.7,1321.1 948.1,1320.6 950.6,1319.8 953,1319 955.5,1317.9 957.9,1316.8 960.4,1315.5 962.8,1314 965.3,1312.5 970.2,1308.9 975,1304.6 979.9,1299.8 984.8,1294.3 989.1,1289 993.4,1283 997.9,1276.1 1001.9,1269.4 1006.2,1261.6 1010.3,1253.4 1014.2,1245 1017.8,1236.3 1021.4,1227 1024.6,1217.9 1027.9,1207.9 1030.9,1197.9 1033.7,1187.3 1036.3,1177 1038.7,1166.1 1041,1154.3 1043,1143.3 1044.7,1131.7 1046.2,1120.6 1047.5,1108.8 1048.6,1097 1049.4,1085.1 1050,1073.3 1050.3,1061.5 1050.4,1050.6 1050.3,1038.7 1049.9,1027.8 1049.2,1016 1048.4,1005.1 1047.3,994.2 1045.9,983.2 1044.2,972.3 1042.5,962.3 1040.5,952.6 1038.2,943.2 1035.8,934.1 1033.1,925 1030.1,916.1 1027,908.1 1023.8,900.5 1020.3,893.2 1016.6,886.3 1012.9,880.2 1009.3,874.8 1005,869.3 1000.7,864.5 996.4,860.3 992.2,856.8 987.9,854 983.6,851.6 981.2,850.5 978.7,849.6 976.3,848.9 973.8,848.3 971.4,847.8 968.9,847.6 964.7,847.5 962.2,847.7 959.8,848 957.3,848.5 954.9,849.1 952.4,849.9 950,850.8 947.5,851.9 945.1,853.2 940.8,855.8 938.4,857.4 935.9,859.3 931.6,862.9 929.2,865.2 926.7,867.7 922.5,872.4 918.2,877.7 913.9,883.6 909.6,890 905.3,897.2 901.1,905 897.4,912.3 893.7,920.3 890.1,928.9 886.4,938.2 882.9,947.8 879.7,957.6 876.6,967.7 873.6,978.6 871,988.7 868.4,999.6 866.1,1010.5 863.9,1022.4 862.1,1033.3 860.3,1045.1 858.9,1056.1 857.6,1067.8 856.5,1079.7 855.7,1091.5 855.1,1103.3 854.7,1115.1 854.6,1126.1 854.7,1137 855,1147.9 855.6,1158.8 856.3,1169.7 857.4,1180.6 858.6,1190.6 860,1200.6 861.7,1210.7 863.5,1219.8 865.6,1229.2 867.9,1237.9 870.3,1246.1 873,1254.3 876,1262.5 879,1269.8 882,1276.1 885.3,1282.5 888.8,1288.5 892.5,1294.1 896.2,1298.9 900,1303.4 904.1,1307.6 908.4,1311.3 912.7,1314.4 915.1,1315.9 917.2,1317.1 919.4,1318.1 921.9,1319.2 926.1,1320.6 928.6,1321.2Z" fill="#98d83e"/>
<path d="M934.5,1259.8 937.8,1260.3 941.4,1260.4 945.1,1260 948.8,1259.3 952.4,1258 956.1,1256.4 959.7,1254.3 962.8,1252.2 966.5,1249.3 970.2,1245.9 973.4,1242.5 976.9,1238.4 980.5,1233.6 983.6,1229.1 986.7,1224.3 989.8,1218.8 992.8,1213.1 995.7,1207 998.3,1201.1 1001.1,1194.3 1003.7,1187 1006.2,1179.7 1008.5,1172.5 1010.5,1165.2 1012.6,1157 1014.5,1148.8 1016.2,1140.6 1017.7,1132.4 1019.1,1124.1 1020.3,1115.4 1021.3,1107 1022.1,1098.4 1022.8,1089.7 1023.3,1081.5 1023.6,1072.4 1023.7,1064.2 1023.6,1055.1 1023.4,1046.9 1023,1038.7 1022.4,1030.5 1021.6,1022.4 1020.8,1015.1 1019.7,1007.4 1018.4,999.6 1016.9,992.3 1015.3,985.1 1013.6,978.3 1011.6,971.4 1009.3,964.6 1007.1,958.7 1004.8,953.2 1002.3,947.8 999.5,942.5 997.1,938.4 994,933.8 990.9,929.9 987.9,926.4 984.8,923.4 981.8,920.9 979.9,919.6 978.1,918.4 975,916.8 973.2,916 971.4,915.3 968.3,914.4 966.5,914.1 964.7,913.9 961.6,913.8 957.9,914.1 954.3,914.9 950.6,916.2 947.2,917.8 943.9,919.7 940.2,922.3 937.1,924.8 934,927.8 930.4,931.5 927.4,935.2 924.3,939.3 921.2,943.7 918.2,948.6 915.1,954 912.2,959.6 909.6,965.1 906.6,971.9 904.1,977.9 901.7,984.4 899.2,991.5 896.8,999.2 894.6,1006.9 892.6,1014.2 890.7,1022.3 889.1,1029.6 887.4,1037.8 886,1046 884.7,1054.2 883.6,1062.4 882.6,1070.6 881.7,1079.7 881,1088.8 880.6,1097 880.3,1105.1 880.1,1113.3 880.1,1121.5 880.3,1129.7 880.7,1137.9 881.2,1145.2 881.9,1153.3 882.7,1160.6 883.6,1167.9 884.8,1175.2 886.1,1182.5 887.5,1188.8 889,1195.2 890.8,1201.6 892.5,1207.2 894.7,1213.4 896.8,1218.9 899.2,1224.4 901.7,1229.4 904.1,1233.8 906.7,1237.9 909.6,1242.1 912.2,1245.2 915.1,1248.5 918.2,1251.3 921.2,1253.7 924.3,1255.7 928,1257.7 931,1258.8Z" fill="#cde11d"/>
<path d="M944.9,1153.3 946.3,1153.6 947.5,1153.6 948.8,1153.5 950,1153.2 951.2,1152.8 952.4,1152.3 953.9,1151.5 955.5,1150.4 957.9,1148.3 960.4,1145.7 962.8,1142.3 965.3,1138.3 967.7,1133.4 969.5,1129 971.4,1123.9 973.2,1117.9 974.5,1112.4 975.8,1106 976.7,1099.7 977.4,1093.3 977.8,1086.9 978,1080.6 977.9,1074.2 977.5,1067.8 976.9,1061.7 976,1056 974.8,1050.6 973.5,1046 972,1041.7 970.2,1037.5 968.3,1034.2 967.1,1032.4 965.9,1030.8 964.7,1029.5 963.4,1028.3 962.2,1027.4 961,1026.6 959.8,1026 958.5,1025.5 957.3,1025.2 956.1,1025.1 954.9,1025.1 953.6,1025.2 952.4,1025.5 950.8,1026 949.4,1026.7 948.1,1027.4 945.7,1029.3 943.3,1031.8 940.8,1034.9 938.4,1038.6 936.5,1042 934.6,1046 932.4,1051.5 930.6,1056.9 929.2,1062.1 927.8,1067.8 926.7,1073.7 925.9,1079.7 925.2,1086 924.7,1092.4 924.6,1098.8 924.7,1105.1 925,1110.6 925.5,1116.1 926.3,1121.5 927.4,1126.7 928.6,1131.5 930.1,1136.1 931.6,1139.8 933.5,1143.4 935.3,1146.3 937.4,1148.8 939.6,1150.8 940.8,1151.7 942,1152.4 943.3,1152.9Z" fill="#fde725"/>
</g>
<circle cx="951.2" cy="1089.7" r="6.5" fill="#f00"/>
<g class="tk" text-anchor="middle">
<text x="852.5" y="1407.8">0.70</text>
<text x="967.1" y="1407.8">0.75</text>
<text x="1081.8" y="1407.8">0.80</text>
</g>
<g class="tk" text-anchor="end">
<text x="741.9" y="834.9">1.40</text>
<text x="741.9" y="971.3">1.35</text>
<text x="741.9" y="1107.7">1.30</text>
<text x="741.9" y="1244.1">1.25</text>
<text x="741.9" y="1380.5">1.20</text>
</g>
<text class="gth" text-anchor="middle" x="951.2" y="1427.8">ϑ</text>
<text class="gla" text-anchor="middle" transform="translate(706.3,1089.7) rotate(-90)">λ</text>
<text class="lt" x="1178.2" y="904.4">level</text>
<g class="ll">
<rect x="1179.3" y="916.3" width="24.6" height="24.6" fill="#440154"/>
<text x="1213.5" y="933.5">(−75.42, −75.40]</text>
<rect x="1179.3" y="943.1" width="24.6" height="24.6" fill="#481c6e"/>
<text x="1213.5" y="960.3">(−75.40, −75.38]</text>
<rect x="1179.3" y="969.9" width="24.6" height="24.6" fill="#453581"/>
<text x="1213.5" y="987.1">(−75.38, −75.36]</text>
<rect x="1179.3" y="996.7" width="24.6" height="24.6" fill="#3d4d8a"/>
<text x="1213.5" y="1013.9">(−75.36, −75.34]</text>
<rect x="1179.3" y="1023.5" width="24.6" height="24.6" fill="#34618d"/>
<text x="1213.5" y="1040.8">(−75.34, −75.32]</text>
<rect x="1179.3" y="1050.3" width="24.6" height="24.6" fill="#2b748e"/>
<text x="1213.5" y="1067.6">(−75.32, −75.30]</text>
<rect x="1179.3" y="1077.1" width="24.6" height="24.6" fill="#24878e"/>
<text x="1213.5" y="1094.4">(−75.30, −75.28]</text>
<rect x="1179.3" y="1103.9" width="24.6" height="24.6" fill="#1f998a"/>
<text x="1213.5" y="1121.2">(−75.28, −75.26]</text>
<rect x="1179.3" y="1130.7" width="24.6" height="24.6" fill="#25ac82"/>
<text x="1213.5" y="1148">(−75.26, −75.24]</text>
<rect x="1179.3" y="1157.5" width="24.6" height="24.6" fill="#40bd72"/>
<text x="1213.5" y="1174.8">(−75.24, −75.22]</text>
<rect x="1179.3" y="1184.3" width="24.6" height="24.6" fill="#67cc5c"/>
<text x="1213.5" y="1201.6">(−75.22, −75.20]</text>
<rect x="1179.3" y="1211.1" width="24.6" height="24.6" fill="#98d83e"/>
<text x="1213.5" y="1228.4">(−75.20, −75.18]</text>
<rect x="1179.3" y="1237.9" width="24.6" height="24.6" fill="#cde11d"/>
<text x="1213.5" y="1255.2">(−75.18, −75.16]</text>
<rect x="1179.3" y="1264.7" width="24.6" height="24.6" fill="#fde725"/>
<text x="1213.5" y="1282">(−75.16, −75.14]</text>
</g>
</g>
<g class="p5">
<path d="M1523.9,789.5V1386.7M1615.5,789.5V1386.7M1707.1,789.5V1386.7M1798.7,789.5V1386.7M1442.7,888.1H1845.9M1442.7,1030.7H1845.9M1442.7,1173.3H1845.9M1442.7,1315.9H1845.9" stroke="#ebebeb" stroke-width="0.8" fill="none"/>
<path d="M1478.1,789.5V1386.7M1569.7,789.5V1386.7M1661.3,789.5V1386.7M1752.9,789.5V1386.7M1844.5,789.5V1386.7M1442.7,816.8H1845.9M1442.7,959.4H1845.9M1442.7,1102H1845.9M1442.7,1244.6H1845.9" stroke="#ebebeb" stroke-width="1.6" fill="none"/>
<clipPath id="c5"><rect x="1461" y="817" width="367" height="543"/></clipPath>
<g clip-path="url(#c5)">
<rect x="1458" y="813.6" width="372.6" height="548.9" fill="#440154"/>
<path d="M1468.3,1367.7 1833.1,1367.7 1833.1,817.8 1827.5,808.5 1455.5,808.5 1455.5,1345.8Z" fill="#482173"/>
<path d="M1485.1,1366.8 1485.7,1367.7 1833.1,1367.7 1833.1,848 1809.4,808.5 1455.5,808.5 1455.5,1316.2 1470.2,1341.7Z" fill="#433e85"/>
<path d="M1503.7,1366.8 1504.2,1367.7 1833.1,1367.7 1833.1,879.9 1812.3,845.1 1790.2,808.5 1455.5,808.5 1455.5,1284.5 1467.1,1305.3 1479.3,1326.4 1491.5,1346.9Z" fill="#38588c"/>
<path d="M1523.7,1366.8 1524.3,1367.7 1833.1,1367.7 1833.1,914.1 1817.8,888.1 1802.5,862.5 1786.7,836.1 1769.8,808.5 1455.5,808.5 1455.5,1250.1 1463.8,1265.5 1472,1280.3 1480.5,1295.3 1488.8,1309.8 1497.4,1324.3 1506.2,1338.7 1514.8,1352.7Z" fill="#2d708e"/>
<path d="M1545.7,1366.8 1546.3,1367.7 1833.1,1367.7 1833.1,951.1 1812.9,916.2 1792,880.9 1770.2,844.8 1747.6,808.5 1455.5,808.5 1455.5,1212.4 1466.2,1232.9 1476.9,1252.8 1487.9,1272.6 1498.9,1291.7 1510.1,1310.7 1521.8,1329.7 1533.7,1348.5Z" fill="#25858e"/>
<path d="M1570.2,1366.8 1570.9,1367.7 1833.1,1367.7 1833.1,992.2 1820.5,969.6 1807.4,946.6 1794,923.4 1780.6,900.8 1766.5,877.4 1752.4,854.6 1737.8,831.2 1723.3,808.5 1455.5,808.5 1455.5,1169.8 1461.6,1182.3 1468.3,1195.8 1475.1,1208.9 1481.9,1222 1488.7,1234.7 1495.7,1247.4 1502.8,1260 1509.9,1272.3 1517.2,1284.7 1524.5,1296.9 1531.9,1308.8 1539.4,1320.6 1547,1332.4 1554.5,1343.8 1562.4,1355.5Z" fill="#1e9b8a"/>
<path d="M1598.6,1366.8 1599.3,1367.7 1833.1,1367.7 1833.1,1039.4 1825.4,1024.8 1817.7,1010.3 1801.9,981.3 1785.5,952.4 1768.5,923.4 1751,894.5 1732.9,865.5 1714.6,836.9 1695.7,808.5 1455.5,808.5 1455.5,1120 1462.8,1136.3 1470.8,1153.3 1478.7,1169.8 1487.3,1186.9 1495.8,1203.5 1504.4,1219.5 1512.9,1235 1522.1,1251 1531.3,1266.6 1540.4,1281.6 1549.6,1296.2 1559.4,1311.2 1569.1,1325.7 1578.9,1339.8 1588.7,1353.4Z" fill="#2ab07f"/>
<path d="M1633.3,1366.8 1634.1,1367.7 1833.1,1367.7 1833.1,1096.9 1824.5,1078.8 1815.3,1060 1806.2,1042 1796.4,1023.2 1786.6,1004.9 1776.3,986.1 1765.9,967.8 1755.3,949.7 1744.5,931.5 1733.4,913.5 1721.9,895.2 1710.3,877.3 1698.7,859.7 1687.1,842.6 1674.9,825.1 1663,808.5 1455.5,808.5 1455.5,1057.3 1464,1079.1 1473,1100.8 1482.4,1122.1 1492.2,1143.4 1502.5,1164.8 1512.9,1185.2 1523.9,1205.7 1534.9,1225.4 1540.4,1234.8 1546.5,1245.1 1558.1,1263.9 1564.3,1273.4 1570.3,1282.6 1576.5,1291.8 1582.6,1300.7 1594.9,1317.9 1600.9,1326.1 1607.6,1335 1614.1,1343.3 1620.5,1351.3 1627.2,1359.5Z" fill="#52c569"/>
<path d="M1682.1,1366.8 1683.1,1367.7 1833.1,1367.7 1833.1,1179.4 1829.3,1168.6 1825.2,1157.8 1821,1146.9 1816.6,1135.8 1812.2,1125.2 1807.6,1114.3 1802.9,1103.5 1798,1092.6 1787.8,1070.9 1777.2,1049.2 1766,1027.5 1754.2,1005.8 1742,984 1729.2,962.4 1716.4,941.5 1703,920.5 1689.5,900.4 1682.8,890.6 1675.5,880.2 1668.1,870 1661.4,860.9 1654.7,852 1647.4,842.4 1640.6,833.9 1633.3,824.8 1626.6,816.6 1619.7,808.5 1455.5,808.5 1455.5,960.4 1459.6,975.9 1464,991.3 1468.4,1005.8 1473.3,1021.1 1478.5,1036.5 1484,1051.9 1489.8,1067.3 1495.9,1082.7 1500.4,1093.5 1505,1104.4 1509.8,1115.2 1514.3,1125.2 1519,1135.4 1524.2,1146 1529.4,1156.6 1534.7,1166.8 1539.9,1176.8 1545.4,1186.7 1550.9,1196.7 1556.7,1206.6 1562.4,1216.4 1568.1,1225.6 1574,1235.1 1580.1,1244.6 1586.3,1253.8 1592.4,1262.7 1598.5,1271.3 1604.6,1279.7 1610.8,1288.1 1617.4,1296.6 1623.6,1304.4 1630.2,1312.4 1636.4,1319.7 1643.1,1327.3 1649.3,1334.2 1655.9,1341.2 1662.3,1347.8 1668.7,1354.2 1675.5,1360.7Z" fill="#86d549"/>
<path d="M1746.6,1333.3 1749.4,1333.6 1752.4,1333.8 1755.5,1333.8 1758.6,1333.6 1761.6,1333.2 1764.1,1332.7 1766.5,1332.1 1768.9,1331.3 1771.4,1330.4 1773.8,1329.2 1776.1,1327.9 1778.1,1326.6 1780,1325.2 1782.4,1323.1 1784.2,1321.3 1786.1,1319.2 1787.8,1317 1789.1,1315.1 1790.7,1312.5 1792.2,1309.8 1793.5,1307.1 1794.6,1304.4 1795.8,1301.1 1796.8,1298 1798.5,1291.7 1799.2,1288.1 1799.8,1284.5 1800.3,1280.8 1800.8,1276.3 1801.2,1268.2 1801.3,1259.1 1800.9,1250.1 1800.2,1241 1799,1231.1 1797.5,1221.1 1795.5,1210.3 1793.2,1199.4 1790.3,1187.6 1787.1,1175.9 1783.6,1164.1 1779.8,1152.3 1775.4,1139.7 1770.8,1127 1765.8,1114.3 1760.4,1101.3 1754.6,1088.1 1748.4,1074.5 1741.9,1061 1735.1,1047.4 1728,1033.8 1720.5,1020.2 1712.8,1006.7 1704.8,993.2 1696.8,980.4 1688.7,967.8 1680.3,955.2 1671.8,943 1663.2,931.2 1654.7,920 1646.1,909.2 1637.6,898.9 1629,889.1 1620.5,879.9 1612.5,871.7 1604.6,864 1596.6,856.8 1588.7,850.2 1581.4,844.5 1574,839.4 1570.4,837.1 1566.7,834.9 1563,832.9 1560,831.3 1556.3,829.6 1553.3,828.3 1550.2,827.2 1547.2,826.2 1544.1,825.4 1541,824.8 1538,824.4 1535.5,824.2 1532.5,824.1 1530,824.3 1527.6,824.6 1525.2,825.1 1522.7,825.8 1520.3,826.8 1518.4,827.7 1516.6,828.7 1514.8,830 1512.9,831.4 1511.1,833.1 1509.5,834.7 1508,836.4 1506.6,838.4 1505,840.8 1503.8,842.9 1502.5,845.2 1501.3,847.8 1499.3,852.8 1498.3,856.1 1497.4,859.2 1495.8,865.8 1494.6,872.8 1493.6,880.9 1493.1,889 1492.8,897.2 1492.9,906.2 1493.3,916.2 1494,925.7 1495.1,936.1 1496.4,946 1498.1,956.9 1500,967.8 1502.4,979.5 1504.9,990.4 1507.6,1001.2 1510.8,1013 1514.2,1024.8 1517.9,1036.5 1521.8,1048.3 1525.9,1060 1530.3,1071.8 1535,1083.6 1539.9,1095.3 1545,1107.1 1550,1118 1555.1,1128.8 1560.6,1139.8 1566.2,1150.5 1571.6,1160.5 1577.7,1171.3 1583.8,1181.7 1589.9,1191.6 1596,1201.2 1602.7,1211.2 1609,1220.2 1615.6,1229.3 1622.3,1238.2 1629,1246.7 1635.7,1254.8 1642.7,1262.7 1649.8,1270.5 1656.5,1277.5 1663.2,1284.1 1670.4,1290.8 1677.3,1296.9 1684,1302.4 1690.7,1307.5 1697.5,1312.3 1703.6,1316.2 1710.3,1320.2 1717,1323.8 1723.1,1326.6 1729.2,1329 1735.3,1331 1740.8,1332.3 1743.9,1332.9Z" fill="#c2df23"/>
<path d="M1677.8,1179.5 1679.7,1179.9 1682.2,1180.3 1684.6,1180.3 1686.5,1180.1 1688.3,1179.7 1690.1,1179.1 1692,1178.1 1693.8,1176.8 1695.6,1175 1696.8,1173.2 1697.9,1171.3 1698.8,1169.5 1699.7,1166.8 1700.5,1164.1 1701,1161.4 1701.4,1157.8 1701.6,1154.2 1701.6,1150.5 1701.5,1146.9 1701.2,1143.3 1700.8,1139.7 1700.1,1135.2 1698.5,1127 1697.4,1122.5 1696.2,1118 1694.9,1113.4 1693.2,1108.1 1689.6,1098.1 1685.9,1089 1683.5,1083.6 1681,1078.1 1676.1,1068.3 1670.6,1058.2 1665.2,1049.2 1662,1044.3 1659,1039.7 1652.9,1031.2 1646.7,1023.5 1643.7,1019.9 1640.6,1016.5 1637.6,1013.3 1634.5,1010.3 1631.5,1007.4 1628.4,1004.8 1626,1002.9 1622.9,1000.7 1619.9,998.7 1617.4,997.4 1615,996.2 1612.5,995.2 1610.1,994.4 1607.6,993.9 1605.2,993.7 1603.4,993.7 1600.9,994.1 1599.1,994.7 1597.3,995.7 1596,996.5 1594.8,997.6 1593.6,999 1592.6,1000.3 1591.6,1002.1 1590.7,1003.9 1590,1005.8 1589.3,1008.2 1588.8,1010.3 1588.4,1013 1588,1015.7 1587.7,1021.1 1587.9,1027.5 1588.5,1034.7 1589.5,1042 1591.1,1050 1592.9,1057.3 1595.3,1065.5 1597.9,1073.6 1600.9,1081.8 1604.2,1089.9 1607.9,1098.1 1611.8,1106.2 1616.1,1114.3 1620.5,1122 1624.7,1128.9 1629.6,1136.2 1634.5,1143 1639.4,1149.2 1644.3,1155 1649.5,1160.5 1654.7,1165.4 1659.6,1169.5 1664.5,1173.1 1669,1175.9 1671.2,1177 1673.6,1178.1 1675.5,1178.8Z" fill="#fde725"/>
</g>
<circle cx="1644.3" cy="1088.1" r="6.5" fill="#f00"/>
<g class="tk" text-anchor="middle">
<text x="1478.1" y="1404.5">0.33</text>
<text x="1569.7" y="1404.5">0.34</text>
<text x="1661.3" y="1404.5">0.35</text>
<text x="1752.9" y="1404.5">0.36</text>
<text x="1844.5" y="1404.5">0.37</text>
</g>
<g class="tk" text-anchor="end">
<text x="1435.1" y="821.7">1.40</text>
<text x="1435.1" y="964.3">1.35</text>
<text x="1435.1" y="1106.9">1.30</text>
<text x="1435.1" y="1249.5">1.25</text>
</g>
<text class="gph" text-anchor="middle" x="1644.3" y="1424">ϕ</text>
<text class="gla" text-anchor="middle" transform="translate(1400.1,1088.1) rotate(-90)">λ</text>
<text class="lt" x="1871.2" y="929.9">level</text>
<g class="ll">
<rect x="1872.3" y="941.8" width="24.6" height="24.6" fill="#440154"/>
<text x="1906.5" y="959">(−75.38, −75.36]</text>
<rect x="1872.3" y="968.6" width="24.6" height="24.6" fill="#482173"/>
<text x="1906.5" y="985.8">(−75.36, −75.34]</text>
<rect x="1872.3" y="995.4" width="24.6" height="24.6" fill="#433e85"/>
<text x="1906.5" y="1012.6">(−75.34, −75.32]</text>
<rect x="1872.3" y="1022.2" width="24.6" height="24.6" fill="#38588c"/>
<text x="1906.5" y="1039.4">(−75.32, −75.30]</text>
<rect x="1872.3" y="1049" width="24.6" height="24.6" fill="#2d708e"/>
<text x="1906.5" y="1066.2">(−75.30, −75.28]</text>
<rect x="1872.3" y="1075.8" width="24.6" height="24.6" fill="#25858e"/>
<text x="1906.5" y="1093">(−75.28, −75.26]</text>
<rect x="1872.3" y="1102.5" width="24.6" height="24.6" fill="#1e9b8a"/>
<text x="1906.5" y="1119.8">(−75.26, −75.24]</text>
<rect x="1872.3" y="1129.3" width="24.6" height="24.6" fill="#2ab07f"/>
<text x="1906.5" y="1146.6">(−75.24, −75.22]</text>
<rect x="1872.3" y="1156.2" width="24.6" height="24.6" fill="#52c569"/>
<text x="1906.5" y="1173.4">(−75.22, −75.20]</text>
<rect x="1872.3" y="1183" width="24.6" height="24.6" fill="#86d549"/>
<text x="1906.5" y="1200.2">(−75.20, −75.18]</text>
<rect x="1872.3" y="1209.8" width="24.6" height="24.6" fill="#c2df23"/>
<text x="1906.5" y="1227">(−75.18, −75.16]</text>
<rect x="1872.3" y="1236.5" width="24.6" height="24.6" fill="#fde725"/>
<text x="1906.5" y="1253.8">(−75.16, −75.14]</text>
</g>
</g>
<g class="p6">
<path d="M87.1,1578.5V2178.8M181.9,1578.5V2178.8M276.7,1578.5V2178.8M371.5,1578.5V2178.8M466.3,1578.5V2178.8M58.5,1591.1H475.8M58.5,1727.5H475.8M58.5,1863.8H475.8M58.5,2000H475.8M58.5,2136.3H475.8" stroke="#ebebeb" stroke-width="0.8" fill="none"/>
<path d="M134.5,1578.5V2178.8M229.3,1578.5V2178.8M324.1,1578.5V2178.8M418.9,1578.5V2178.8M58.5,1659.3H475.8M58.5,1795.6H475.8M58.5,1931.9H475.8M58.5,2068.2H475.8" stroke="#ebebeb" stroke-width="1.6" fill="none"/>
<clipPath id="c6"><rect x="77" y="1606" width="380" height="546"/></clipPath>
<g clip-path="url(#c6)">
<rect x="74.5" y="1602.7" width="385.4" height="551.8" fill="#440154"/>
<path d="M71.8,2159.7 443.3,2159.7 453,2148.1 462.5,2136.4 462.5,1597.6 94.9,1597.6 83.2,1619.1 71.8,1640.4Z" fill="#482878"/>
<path d="M71.8,2159.7 419.9,2159.7 430.9,2147 441.5,2134.2 451.8,2121.5 462.5,2107.7 462.5,1597.6 113.3,1597.6 102.8,1616.3 92.6,1634.7 81.9,1654.6 71.8,1673.8Z" fill="#3e4989"/>
<path d="M71.8,2159.7 394.4,2159.7 403.4,2149.7 412.1,2139.7 420.8,2129.5 429.6,2118.8 437.9,2108.5 446.2,2097.8 454.5,2086.9 462.5,2076 462.5,1597.6 133.4,1597.6 117.9,1624.4 102.8,1651.6 87,1680.8 71.8,1709.8Z" fill="#31688e"/>
<path d="M71.8,2159.7 366.2,2159.7 378.9,2146.1 391.1,2132.4 402.8,2118.8 414.2,2105.1 425.8,2090.6 436.6,2076.4 447.6,2061.5 458.1,2046.7 462.5,2040.3 462.5,1597.6 155.8,1597.6 145.1,1615.4 134.4,1633.7 124.3,1651.3 113.5,1670.5 102.8,1690.1 92.6,1708.9 81.9,1729.4 71.8,1749Z" fill="#26828e"/>
<path d="M71.8,2159.7 334.5,2159.7 348.7,2145.1 355.7,2137.7 363.1,2129.7 376.9,2114.2 389.8,2099 402.7,2083.3 415.4,2066.9 427.7,2050.4 439.9,2033.3 451.1,2016.8 462.5,1999.3 462.5,1597.6 181.2,1597.6 167.3,1619.9 153.3,1642.9 139.4,1666.5 125.5,1691 112.2,1715 98.3,1740.9 85.1,1766.3 71.8,1792.6Z" fill="#1f9e89"/>
<path d="M71.8,2159.7 297.7,2159.7 306.3,2151.5 314.6,2143.5 322.9,2135.1 330.8,2127 338.6,2118.7 346.8,2109.8 354.3,2101.5 362,2092.6 369.6,2083.7 377.2,2074.5 384.8,2065.1 391.7,2056.2 398.8,2046.9 405.6,2037.8 412.6,2028.2 419.5,2018.3 430.9,2001.6 441.6,1985.1 452.4,1967.8 462.5,1950.6 462.5,1597.6 210.9,1597.6 201.4,1611.8 192.5,1625.4 183.7,1639.3 174.8,1653.4 166,1667.9 157.1,1682.7 148.3,1697.8 139.4,1713.2 130.6,1728.9 121.7,1745 112.9,1761.3 104.7,1776.9 96.4,1792.7 88.2,1808.9 80,1825.4 71.8,1842.3Z" fill="#35b779"/>
<path d="M71.8,2159.7 252.5,2159.7 262.1,2151.5 272.3,2142.4 282.3,2133.3 291.8,2124.2 301.1,2115.1 310.1,2105.9 319.6,2096 328.5,2086.3 337.7,2076 346.3,2066 354.6,2056 363.4,2045.1 371.9,2034.2 380.1,2023.3 388.1,2012.3 395.8,2001.4 405,1987.9 413.8,1974.4 422.6,1960.5 430.9,1946.8 439.1,1932.7 447,1918.6 454.9,1904.1 462.5,1889.3 462.5,1597.6 247.3,1597.6 236.8,1612.1 226.1,1627.3 215.3,1643 205.2,1658.2 195.1,1673.8 185,1689.8 174.8,1706.3 164.7,1723.2 154.6,1740.5 144.5,1758.3 134.4,1776.6 125,1794 115.4,1812.2 106.6,1829.5 97.7,1847.3 88.7,1865.9 80,1884.4 71.8,1902.4Z" fill="#6ece58"/>
<path d="M71.8,2159.7 185.7,2159.7 197.3,2152.4 203.3,2148.4 209.4,2144.2 215.7,2139.7 221.6,2135.3 233.6,2126.1 245.7,2116.2 257.4,2106 269.4,2095.1 280.7,2084.2 292.4,2072.4 303.6,2060.5 314.6,2048.3 325.3,2035.8 335.6,2023.3 346.2,2009.6 356.4,1996 366.8,1981.4 374,1970.9 380.9,1960.5 387.3,1950.4 394,1939.6 400.5,1928.7 406.8,1917.7 412.9,1906.8 418.9,1895.7 425,1884.1 430.9,1872.3 436.6,1860.5 441.7,1849.5 447.1,1837.7 452.4,1825.4 457.6,1813.1 462.5,1800.8 462.5,1597.6 297.4,1597.6 288.6,1607.7 280.4,1617.5 271.6,1628.5 263.4,1638.9 254.6,1650.3 246.3,1661.6 238,1673.1 229.2,1685.5 217.2,1703.1 205.8,1720.4 193.8,1739.4 182.4,1758 171,1777.2 160.3,1796.1 149.5,1815.6 138.8,1835.9 128.7,1855.7 119.2,1875 109.8,1895 101.2,1914.1 92.6,1933.9 85.1,1952.3 78.1,1970.5 71.8,1987.8Z" fill="#b5de2b"/>
<path d="M144.1,2093.3 146.4,2093.7 148.9,2093.9 151.4,2094.1 154,2094 159,2093.7 164.7,2092.8 170.4,2091.4 176.7,2089.4 183.1,2087 190,2083.9 197,2080.4 204.6,2076.2 212.1,2071.5 219,2066.9 226.6,2061.5 233.7,2056 241.2,2049.9 248.8,2043.4 256.1,2036.9 263.7,2029.6 271,2022.3 278.5,2014.5 285.6,2006.9 292.8,1998.7 300,1990.1 307,1981.4 314.1,1972.3 320.9,1963.2 327.4,1954.1 334.2,1944.2 340.5,1934.6 346.8,1924.6 353.1,1914.1 358.8,1904.3 365,1893.2 370.8,1882.3 376.3,1871.3 381.6,1860.4 386.6,1849.5 391.7,1837.9 396.3,1826.8 400.6,1815.9 405,1804 408.7,1793.1 412.3,1782.2 415.5,1771.3 418.5,1760.4 421.3,1749.5 423.5,1739.5 425.5,1729.4 427.2,1719.4 428.4,1710.3 429.4,1701.2 430,1692.2 430.2,1684 430.1,1675.8 429.6,1668.5 428.8,1662.1 427.5,1655.8 426.1,1650.3 425.2,1647.6 424.1,1644.9 423.3,1643 422,1640.3 420.8,1638.2 419.5,1636.3 417.8,1633.9 416.4,1632.3 415.1,1631 413.2,1629.4 411.3,1628 409.4,1626.8 407.5,1625.8 405.6,1625 403.7,1624.3 401.2,1623.6 399.3,1623.3 396.8,1623 394.2,1622.8 391.7,1622.9 389.2,1623.1 386.6,1623.4 384.1,1623.9 381,1624.6 378.4,1625.3 375.3,1626.3 369.6,1628.5 363.3,1631.5 356.9,1634.9 350.6,1638.8 343.7,1643.5 336.7,1648.6 329.7,1654.1 322.2,1660.5 314.6,1667.4 307,1674.7 299.4,1682.4 291.8,1690.4 283.7,1699.4 276,1708.4 268.4,1717.6 260.4,1727.6 252.6,1737.8 244.7,1748.5 236.8,1759.6 229.2,1770.6 221.6,1782 214,1793.8 207.1,1805 199.5,1817.7 192.5,1829.7 185.6,1842.1 179.1,1854.1 172.9,1866 166.6,1878.6 160.5,1891.4 154.7,1904.1 149.5,1915.9 144.6,1927.7 140.1,1939.1 135.8,1950.5 132,1961.4 128.5,1972.3 125.6,1982.3 122.9,1992.3 120.5,2002.3 118.7,2011.4 117.2,2020.5 116.2,2028.7 115.6,2036.9 115.4,2044.2 115.6,2051.5 116.3,2057.8 117.2,2063.3 117.9,2066 118.7,2068.7 119.6,2071.5 120.5,2073.6 121.6,2076 122.6,2077.8 123.7,2079.7 125,2081.5 126.5,2083.3 128.2,2085.1 129.9,2086.7 131.8,2088.2 133.7,2089.4 135.6,2090.4 137.5,2091.3 139.4,2092 142,2092.8Z" fill="#fde725"/>
</g>
<circle cx="267.2" cy="1878.6" r="6.5" fill="#f00"/>
<g class="tk" text-anchor="middle">
<text x="134.5" y="2196.8">1.2</text>
<text x="229.3" y="2196.8">1.3</text>
<text x="324.1" y="2196.8">1.4</text>
<text x="418.9" y="2196.8">1.5</text>
</g>
<g class="tk" text-anchor="end">
<text x="50.9" y="1664.2">0.60</text>
<text x="50.9" y="1800.5">0.55</text>
<text x="50.9" y="1936.8">0.50</text>
<text x="50.9" y="2073.1">0.45</text>
</g>
<text class="gth" text-anchor="middle" x="267.1" y="2216.8">ϑ</text>
<text class="gph" text-anchor="middle" transform="translate(11.9,1878.6) rotate(-90)">ϕ</text>
<text class="lt" x="501.1" y="1747">level</text>
<g class="ll">
<rect x="502.2" y="1758.9" width="24.6" height="24.6" fill="#440154"/>
<text x="536.4" y="1776.1">(−46.2, −46.0]</text>
<rect x="502.2" y="1785.7" width="24.6" height="24.6" fill="#482878"/>
<text x="536.4" y="1802.9">(−46.0, −45.8]</text>
<rect x="502.2" y="1812.5" width="24.6" height="24.6" fill="#3e4989"/>
<text x="536.4" y="1829.7">(−45.8, −45.6]</text>
<rect x="502.2" y="1839.3" width="24.6" height="24.6" fill="#31688e"/>
<text x="536.4" y="1856.5">(−45.6, −45.4]</text>
<rect x="502.2" y="1866.1" width="24.6" height="24.6" fill="#26828e"/>
<text x="536.4" y="1883.3">(−45.4, −45.2]</text>
<rect x="502.2" y="1892.9" width="24.6" height="24.6" fill="#1f9e89"/>
<text x="536.4" y="1910.1">(−45.2, −45.0]</text>
<rect x="502.2" y="1919.7" width="24.6" height="24.6" fill="#35b779"/>
<text x="536.4" y="1936.9">(−45.0, −44.8]</text>
<rect x="502.2" y="1946.5" width="24.6" height="24.6" fill="#6ece58"/>
<text x="536.4" y="1963.7">(−44.8, −44.6]</text>
<rect x="502.2" y="1973.3" width="24.6" height="24.6" fill="#b5de2b"/>
<text x="536.4" y="1990.5">(−44.6, −44.4]</text>
<rect x="502.2" y="2000.1" width="24.6" height="24.6" fill="#fde725"/>
<text x="536.4" y="2017.3">(−44.4, −44.2]</text>
</g>
</g>
<g class="p7">
<path d="M758.6,1578.5V2178.8M850.4,1578.5V2178.8M942,1578.5V2178.8M1033.8,1578.5V2178.8M1125.5,1578.5V2178.8M749.5,1713.2H1153M749.5,1849.6H1153M749.5,1986H1153M749.5,2122.4H1153" stroke="#ebebeb" stroke-width="0.8" fill="none"/>
<path d="M804.5,1578.5V2178.8M896.2,1578.5V2178.8M987.9,1578.5V2178.8M1079.6,1578.5V2178.8M749.5,1645H1153M749.5,1781.4H1153M749.5,1917.8H1153M749.5,2054.2H1153" stroke="#ebebeb" stroke-width="1.6" fill="none"/>
<clipPath id="c7"><rect x="768" y="1606" width="367" height="546"/></clipPath>
<g clip-path="url(#c7)">
<rect x="764.8" y="1602.7" width="372.8" height="551.8" fill="#440154"/>
<path d="M762.3,2159.7 1128.8,2159.7 1134.5,2148.8 1140.1,2137.8 1140.1,1597.6 776.4,1597.6 769.2,1613 762.3,1628.1Z" fill="#482878"/>
<path d="M762.3,2159.7 1110.6,2159.7 1118.1,2145.7 1125.5,2131.5 1132.8,2116.9 1140.1,2101.9 1140.1,1597.6 793.5,1597.6 785.5,1614.1 777.6,1631.2 769.8,1648.5 762.3,1665.6Z" fill="#3e4989"/>
<path d="M762.3,2159.7 1090.6,2159.7 1097.3,2147.9 1103.7,2136 1110.2,2123.9 1116.3,2112 1122.4,2099.7 1128.5,2087 1134.5,2074.2 1140.1,2061.8 1140.1,1597.6 812.2,1597.6 805.8,1610.3 799.6,1623.1 793.1,1636.7 786.7,1650.5 780.6,1664.1 774.5,1678 768.4,1692.4 762.3,1707.1Z" fill="#31688e"/>
<path d="M762.3,2159.7 1068.6,2159.7 1078.4,2142.9 1087.8,2126 1097,2108.8 1105.9,2091.3 1115,2072.4 1123.5,2054.2 1132,2035.1 1140.1,2016.1 1140.1,1597.6 832.9,1597.6 823.4,1615.9 814.3,1634.3 805.3,1653 796.5,1672 788,1691.3 779.4,1711.4 770.8,1732.2 762.3,1753.8Z" fill="#26828e"/>
<path d="M762.3,2159.7 1043.8,2159.7 1050.9,2148.3 1057.6,2137 1063.9,2126 1070.4,2114.5 1076.5,2103.3 1082.8,2091.5 1088.8,2079.7 1094.9,2067.5 1100.8,2055.1 1106.5,2043 1112.6,2029.6 1118.1,2017 1123.6,2004.1 1129.2,1990.5 1134.6,1977.1 1140.1,1962.9 1140.1,1597.6 856.3,1597.6 849.8,1609.4 843.5,1621.2 836.9,1633.9 831,1645.8 824.6,1658.6 818.6,1671.2 812.7,1684 806.9,1696.7 801.3,1709.4 795.4,1723.1 789.8,1736.5 784.3,1750 778.8,1763.8 773.3,1777.9 767.8,1792.5 762.3,1807.4Z" fill="#1f9e89"/>
<path d="M762.3,2159.7 1015.2,2159.7 1024.1,2146.1 1033.2,2131.5 1042.3,2116.3 1050.8,2101.5 1059.4,2086 1067.4,2071 1075.3,2055.3 1083,2039.6 1090.6,2023.4 1098,2006.9 1105.3,1990.1 1112.6,1972.3 1119.9,1954.1 1126.7,1936.3 1133.4,1917.9 1140.1,1898.7 1140.1,1597.6 883.2,1597.6 874.8,1612.2 866.2,1627.6 858.3,1642.4 850.3,1657.7 842.4,1673.6 834.4,1690 826.6,1706.7 819.1,1723.3 811.8,1740.2 804.5,1757.6 797.1,1775.7 789.8,1794.4 782.5,1813.8 775.7,1832.2 769,1851.3 762.3,1871Z" fill="#35b779"/>
<path d="M762.3,2159.7 980.5,2159.7 989.1,2147.7 997.7,2135.2 1008.4,2118.8 1019.1,2101.6 1029.4,2084.2 1039.2,2066.6 1048.8,2048.7 1058.2,2030.2 1067.4,2011.2 1076.5,1991.1 1085.1,1971.4 1093.7,1950.5 1102.2,1928.8 1110.2,1907.4 1118,1885 1125.4,1862.9 1132.8,1839.5 1140.1,1815.3 1140.1,1597.6 915.9,1597.6 904.6,1615.7 898.6,1625.7 893.3,1634.8 887.6,1644.7 882.1,1654.6 871.7,1674 861.3,1694.3 850.9,1715.6 841.2,1736.7 831.4,1758.6 821.6,1781.9 812.4,1804.7 803.3,1828.6 794.7,1852 786.1,1876.6 777.6,1902.3 769.6,1927.7 762.3,1952.3Z" fill="#6ece58"/>
<path d="M762.3,2159.7 933.7,2159.7 940,2152.4 946,2145.1 951.8,2137.9 957.9,2130 963.6,2122.4 969.6,2114.2 975.7,2105.6 981.6,2096.9 990.3,2083.6 998.5,2070.6 1006.8,2056.6 1015,2042.4 1022.9,2027.8 1030.7,2012.9 1038.2,1997.8 1045.6,1982.3 1052.7,1966.7 1060,1949.8 1066.7,1933.5 1073.4,1916.8 1079.6,1900.3 1086.1,1882.3 1092.3,1864.1 1098,1846.8 1104.7,1825.1 1110.7,1804 1116.3,1783.8 1121.8,1762.2 1126.7,1741.3 1131.3,1720.4 1135.2,1700.3 1138.8,1680.3 1140.1,1672.6 1140.1,1597.6 959.6,1597.6 954.3,1604.8 948.8,1612.5 938.4,1627.6 929.2,1641.5 920,1656.2 911,1671.2 902.3,1686.4 893.7,1702.1 885.2,1718.3 877.2,1734.1 869,1751.3 861.3,1767.8 853.3,1785.8 845.4,1804.4 838.1,1822.5 830.8,1841.3 824,1859.5 817.2,1878.6 810.6,1898.2 803.9,1919.1 797.7,1939.1 791.6,1960.2 786.1,1980.5 781,2000.5 776.3,2020.5 772.1,2040.2 768.4,2058.9 766.6,2068.7 765,2078.7 762.3,2096.9Z" fill="#b5de2b"/>
<path d="M847.8,2129.7 849.7,2130.1 852.2,2130.4 854,2130.5 856.4,2130.5 860.7,2130 863.2,2129.6 865.6,2129 870.5,2127.4 873.6,2126.2 876,2125.1 881.5,2122.2 887,2119 892.5,2115.3 898.6,2110.7 904.7,2105.7 910.9,2100.2 917.1,2094.2 923.7,2087.5 929.8,2080.8 936.3,2073.3 942.6,2065.5 948.8,2057.6 954.9,2049.4 961,2040.7 967.1,2031.6 973.2,2022.1 979.2,2012.3 984.8,2002.9 990.3,1993.2 995.8,1983.1 1001.3,1972.5 1006.9,1961.4 1012.1,1950.5 1017.2,1939.4 1022.4,1927.7 1027.3,1915.9 1032.5,1903.2 1037.4,1890.5 1041.7,1878.6 1046.1,1865.9 1050.4,1853.2 1054.5,1840 1058.2,1827.6 1062,1814 1065.5,1800.6 1068.6,1788.1 1071.5,1774.9 1074,1763.1 1076.4,1750.4 1078.3,1738.5 1079.9,1727.6 1081.2,1716.7 1082.2,1705.8 1082.9,1695.8 1083.3,1686.7 1083.3,1677.6 1083.1,1669.4 1082.5,1661.2 1081.6,1653.9 1080.4,1647.6 1079,1641.6 1078,1638.5 1077.1,1636 1075.1,1631.2 1074.1,1629.1 1072.7,1626.7 1071.5,1624.8 1069.8,1622.7 1068.5,1621.2 1066.7,1619.5 1065.5,1618.5 1063.7,1617.2 1061.9,1616.1 1060,1615.2 1058.2,1614.6 1056.4,1614 1054.5,1613.6 1052.1,1613.4 1050.2,1613.3 1047.8,1613.4 1045.4,1613.6 1042.9,1614 1040.5,1614.6 1038,1615.3 1033.1,1617.2 1030.3,1618.5 1027.6,1619.8 1022.1,1623 1016.6,1626.6 1010.5,1631.2 1004.4,1636.2 998.3,1641.8 992.2,1647.7 986,1654.1 979.9,1661 973.2,1668.9 967.1,1676.6 960.8,1684.9 954.3,1693.9 948.1,1702.7 941.4,1712.9 935.3,1722.6 929.2,1732.7 923.1,1743.3 917.6,1753.1 911.5,1764.5 905.3,1776.4 899.8,1787.7 894.3,1799.1 888.8,1811.3 883.3,1823.6 877.8,1836.7 872.3,1850.4 867.4,1863 862.7,1875.9 858.2,1888.6 853.9,1901.4 849.5,1915 845.4,1928.6 841.8,1941.5 838.1,1955 835,1967.5 832,1980.5 829.6,1992.3 827.3,2004.2 825.4,2016 823.8,2026.9 822.6,2036.9 821.7,2046.9 821.2,2056 821,2065.1 821.1,2073.3 821.5,2081.5 822.3,2088.7 823.4,2095.7 824.8,2101.5 826.5,2107 827.5,2109.7 828.7,2112.4 830.1,2115.1 831.2,2116.9 832.4,2118.8 833.8,2120.6 835.4,2122.4 836.9,2123.8 838.5,2125.1 839.9,2126.2 841.8,2127.3 843.6,2128.2 845.4,2129Z" fill="#fde725"/>
</g>
<circle cx="951.2" cy="1878.6" r="6.5" fill="#f00"/>
<g class="tk" text-anchor="middle">
<text x="804.5" y="2196.8">1.300</text>
<text x="896.2" y="2196.8">1.325</text>
<text x="987.9" y="2196.8">1.350</text>
<text x="1079.6" y="2196.8">1.375</text>
</g>
<g class="tk" text-anchor="end">
<text x="741.9" y="1649.9">1.85</text>
<text x="741.9" y="1786.3">1.80</text>
<text x="741.9" y="1922.7">1.75</text>
<text x="741.9" y="2059.1">1.70</text>
</g>
<text class="gth" text-anchor="middle" x="951.2" y="2216.8">ϑ</text>
<text class="gla" text-anchor="middle" transform="translate(706.3,1878.6) rotate(-90)">λ</text>
<text class="lt" x="1178.2" y="1747">level</text>
<g class="ll">
<rect x="1179.3" y="1758.9" width="24.6" height="24.6" fill="#440154"/>
<text x="1213.5" y="1776.1">(−44.34, −44.33]</text>
<rect x="1179.3" y="1785.7" width="24.6" height="24.6" fill="#482878"/>
<text x="1213.5" y="1802.9">(−44.33, −44.32]</text>
<rect x="1179.3" y="1812.5" width="24.6" height="24.6" fill="#3e4989"/>
<text x="1213.5" y="1829.7">(−44.32, −44.31]</text>
<rect x="1179.3" y="1839.3" width="24.6" height="24.6" fill="#31688e"/>
<text x="1213.5" y="1856.5">(−44.31, −44.30]</text>
<rect x="1179.3" y="1866.1" width="24.6" height="24.6" fill="#26828e"/>
<text x="1213.5" y="1883.3">(−44.30, −44.29]</text>
<rect x="1179.3" y="1892.9" width="24.6" height="24.6" fill="#1f9e89"/>
<text x="1213.5" y="1910.1">(−44.29, −44.28]</text>
<rect x="1179.3" y="1919.7" width="24.6" height="24.6" fill="#35b779"/>
<text x="1213.5" y="1936.9">(−44.28, −44.27]</text>
<rect x="1179.3" y="1946.5" width="24.6" height="24.6" fill="#6ece58"/>
<text x="1213.5" y="1963.7">(−44.27, −44.26]</text>
<rect x="1179.3" y="1973.3" width="24.6" height="24.6" fill="#b5de2b"/>
<text x="1213.5" y="1990.5">(−44.26, −44.25]</text>
<rect x="1179.3" y="2000.1" width="24.6" height="24.6" fill="#fde725"/>
<text x="1213.5" y="2017.3">(−44.25, −44.24]</text>
</g>
</g>
<g class="p8">
<path d="M1508.7,1578.5V2175.7M1596.8,1578.5V2175.7M1684.8,1578.5V2175.7M1772.9,1578.5V2175.7M1443.5,1704.4H1829.5M1443.5,1847.1H1829.5M1443.5,1989.9H1829.5M1443.5,2132.6H1829.5" stroke="#ebebeb" stroke-width="0.8" fill="none"/>
<path d="M1464.7,1578.5V2175.7M1552.8,1578.5V2175.7M1640.8,1578.5V2175.7M1728.8,1578.5V2175.7M1816.9,1578.5V2175.7M1443.5,1633H1829.5M1443.5,1775.8H1829.5M1443.5,1918.5H1829.5M1443.5,2061.2H1829.5" stroke="#ebebeb" stroke-width="1.6" fill="none"/>
<clipPath id="c8"><rect x="1461" y="1606" width="351" height="543"/></clipPath>
<g clip-path="url(#c8)">
<rect x="1458" y="1602.6" width="357" height="548.9" fill="#440154"/>
<path d="M1466,2155.7 1466.6,2156.6 1817.3,2156.6 1817.3,1610.3 1809.7,1597.5 1455.7,1597.5 1455.7,2138.1 1461,2147.3Z" fill="#481c6e"/>
<path d="M1478.5,2155.7 1479.1,2156.6 1817.3,2156.6 1817.3,1631.6 1807.3,1614.4 1797.1,1597.5 1455.7,1597.5 1455.7,2116.8 1461.3,2126.8 1466.8,2136.5 1472.7,2146.3Z" fill="#453581"/>
<path d="M1491.9,2155.7 1492.5,2156.6 1817.3,2156.6 1817.3,1654.6 1809.1,1639.8 1800.8,1625.5 1792.1,1611.1 1783.5,1597.5 1455.7,1597.5 1455.7,2093.7 1464.5,2110.1 1473.3,2125.5 1482.6,2141.2Z" fill="#3d4d8a"/>
<path d="M1506.4,2155.7 1507,2156.6 1817.3,2156.6 1817.3,1679.5 1811.4,1668.4 1805.8,1658.1 1799.7,1647.3 1793.9,1637.3 1787.9,1627.3 1781.6,1617.1 1775.1,1607 1768.8,1597.5 1455.7,1597.5 1455.7,2068.7 1461.8,2080.6 1468,2092.4 1474,2103.3 1480.2,2114.1 1486.7,2125 1493.2,2135.5 1499.8,2145.8Z" fill="#34618d"/>
<path d="M1522.3,2155.7 1523,2156.6 1817.3,2156.6 1817.3,1706.7 1809.7,1691.7 1802.1,1677.4 1794.4,1663.5 1786.3,1649.5 1778.1,1635.9 1769.9,1622.8 1761.5,1610.1 1752.9,1597.5 1455.7,1597.5 1455.7,2041.2 1463.3,2056.9 1470.9,2071.7 1479.1,2087 1487.3,2101.5 1495.5,2115.2 1504.3,2129.2 1513.1,2142.4Z" fill="#2b748e"/>
<path d="M1539.9,2155.7 1540.6,2156.6 1817.3,2156.6 1817.3,1736.7 1807.9,1717.4 1798.5,1699.2 1788.6,1680.9 1778.7,1663.5 1773.4,1654.7 1768.3,1646.3 1762.9,1637.7 1757.6,1629.6 1751.9,1621 1746.5,1613.1 1741.2,1605.6 1735.3,1597.5 1455.7,1597.5 1455.7,2010.8 1460.4,2021.1 1465.1,2031 1469.9,2040.8 1475,2051.2 1480,2060.7 1485,2070 1490.2,2079.6 1495.5,2088.8 1500.8,2097.7 1506,2106.3 1511.6,2115 1517.2,2123.6 1522.4,2131.4 1528.3,2139.8 1534.1,2148Z" fill="#24878e"/>
<path d="M1559.6,2155.7 1560.3,2156.6 1817.3,2156.6 1817.3,1770.2 1812,1758.5 1806.2,1746.2 1800.3,1734.2 1794.5,1722.6 1788.6,1711.3 1782.3,1699.7 1776.3,1688.8 1769.9,1677.8 1763.5,1667.1 1757,1656.6 1750.4,1646.3 1743.8,1636.4 1737,1626.4 1730.1,1616.6 1723.1,1607 1715.8,1597.5 1455.7,1597.5 1455.7,1976.5 1461.2,1989.3 1466.8,2002 1472.7,2014.6 1478.8,2027.3 1484.7,2039 1490.9,2050.8 1497.3,2062.5 1503.7,2073.9 1510.4,2085.2 1517.1,2096 1523.6,2106.2 1530.6,2116.7 1537.7,2126.8 1544.9,2136.7 1552.3,2146.4Z" fill="#1f998a"/>
<path d="M1582.2,2155.7 1583,2156.6 1817.3,2156.6 1817.3,1808.4 1810.8,1793.3 1804.2,1778.4 1797.4,1763.7 1790.4,1749.2 1783.2,1735 1775.7,1720.9 1768.1,1707.1 1760.5,1693.8 1752.7,1680.7 1744.8,1668 1736.5,1655.4 1728.5,1643.6 1720.2,1631.8 1711.5,1620.1 1702.6,1608.6 1693.7,1597.5 1455.7,1597.5 1455.7,1937.1 1462.2,1953.3 1469.2,1970.1 1476.2,1986.1 1483.1,2001 1490.2,2015.7 1497.9,2030.6 1505.5,2044.8 1513.1,2058.3 1521,2071.6 1528.9,2084.3 1537.2,2096.9 1545.9,2109.6 1554.6,2121.5 1563.5,2133.1 1572.7,2144.6Z" fill="#25ac82"/>
<path d="M1608.8,2155.7 1609.7,2156.6 1817.3,2156.6 1817.3,1853.5 1809.7,1834.1 1802.1,1815.7 1793.9,1796.9 1785.7,1779.3 1777.4,1762.1 1768.7,1745.1 1759.8,1728.7 1750.6,1712.4 1741.2,1696.7 1731.3,1681 1721.5,1666.2 1711.3,1651.7 1700.8,1637.6 1690,1623.7 1678.9,1610.1 1667.9,1597.5 1455.7,1597.5 1455.7,1890.2 1463.3,1911.3 1470.9,1931.1 1475,1941.3 1479.1,1951.2 1487.3,1970 1495.8,1988.3 1500.2,1997.4 1504.8,2006.4 1509,2014.6 1513.8,2023.6 1518.3,2031.9 1523,2040.2 1527.7,2048.2 1533,2056.9 1537.6,2064.4 1542.9,2072.5 1547.7,2079.7 1552.8,2087.3 1558.1,2094.7 1563.4,2101.9 1569.2,2109.6 1574.5,2116.4 1579.9,2123.2 1585.6,2130 1591.4,2136.7 1597,2143.1 1602.8,2149.4Z" fill="#40bd72"/>
<path d="M1642.3,2155.7 1643.4,2156.6 1817.3,2156.6 1817.3,1910.3 1814.9,1903.2 1810.8,1891.2 1806.8,1879.8 1802.6,1868.5 1798.5,1857.8 1793.9,1846 1789.2,1834.6 1784.6,1823.7 1779.8,1812.9 1774.8,1801.9 1769.9,1791.4 1764.6,1780.6 1759.4,1770.3 1754.1,1760.1 1748.8,1750.3 1743.3,1740.4 1737.7,1730.7 1731.9,1720.8 1726.1,1711.5 1720.4,1702.4 1714.4,1693.4 1708.3,1684.3 1702,1675.4 1696,1667.1 1689.7,1658.7 1683.3,1650.4 1676.9,1642.4 1670.4,1634.6 1663.4,1626.5 1656.9,1619.2 1650,1611.6 1643.4,1604.7 1636.2,1597.5 1455.7,1597.5 1455.7,1830.2 1461.4,1849 1467.4,1867.5 1471.5,1879.5 1475.5,1890.6 1479.7,1902.1 1483.8,1912.8 1487.9,1923.2 1492.6,1934.5 1497.3,1945.5 1502,1956 1506.6,1966.2 1511.6,1976.6 1516.6,1986.6 1521.6,1996.5 1526.5,2005.7 1532,2015.5 1537.6,2025.4 1542.9,2034.2 1548.2,2042.7 1554,2051.9 1559.9,2060.7 1565.5,2068.9 1571.4,2077 1577.4,2085.1 1583.7,2093.3 1589.7,2100.7 1596.1,2108.4 1602.6,2115.9 1609,2123 1615.4,2129.8 1622.2,2136.7 1628.6,2143.1 1635.3,2149.4Z" fill="#67cc5c"/>
<path d="M1692.1,2155.7 1693.6,2156.6 1808.2,2156.6 1810.8,2152.7 1813.2,2148.5 1815.4,2144 1817.3,2139.4 1817.3,1999.7 1815.5,1991.1 1813.5,1982 1811.4,1973 1809.1,1963.4 1806.7,1954.4 1804.1,1944.9 1801.5,1935.7 1798.5,1925.9 1795.4,1916 1792.1,1906 1785.7,1887.5 1778.7,1868.8 1774.8,1859 1770.7,1849 1766.5,1839 1762.3,1829.5 1758.2,1820.4 1753.8,1811 1749.4,1801.9 1744.7,1792.6 1740,1783.5 1735.4,1774.7 1730.4,1765.8 1725.4,1756.9 1720.6,1748.6 1715.5,1740.1 1710.2,1731.7 1704.9,1723.5 1699.7,1715.6 1694.4,1707.9 1688.6,1699.7 1683.4,1692.5 1677.9,1685.2 1672.3,1678 1666.5,1670.7 1661.1,1664.2 1655.2,1657.4 1649.4,1650.8 1643.5,1644.4 1637.7,1638.3 1631.8,1632.4 1625.7,1626.4 1620,1621 1613.7,1615.3 1607.7,1610.1 1601.4,1604.9 1591.8,1597.5 1459.7,1597.5 1457.5,1603.5 1455.7,1609.3 1455.7,1730 1457.5,1740.7 1459.6,1752.2 1461.9,1763.9 1464.4,1775.7 1467.4,1788.4 1470.3,1800.1 1473.4,1811.9 1476.7,1823.7 1480.2,1835.4 1483.8,1847.2 1487.9,1859.8 1492,1871.6 1496.1,1883.2 1500.2,1894.2 1504.8,1906 1509.3,1916.9 1513.5,1926.8 1517.9,1936.8 1522.4,1946.7 1527.1,1956.7 1532.1,1966.6 1537,1976.3 1542,1985.6 1547,1994.6 1552.3,2003.7 1557.5,2012.5 1562.7,2020.9 1568,2029.1 1573.4,2037.2 1579.1,2045.4 1584.4,2052.7 1590.3,2060.5 1596.1,2068 1602,2075.2 1608.1,2082.5 1614.3,2089.5 1620.3,2096 1626.6,2102.6 1633,2109.1 1639.4,2115.2 1645.9,2121.1 1652.3,2126.8 1658.9,2132.2 1665.8,2137.7 1672.8,2142.9 1679.2,2147.5 1685.6,2151.7Z" fill="#98d83e"/>
<path d="M1734.6,2120.5 1737.7,2120.5 1740.6,2120.4 1743.6,2120.2 1746.5,2119.7 1749.4,2119.1 1751.7,2118.4 1754.7,2117.4 1757,2116.4 1759.4,2115.2 1761.7,2113.8 1764,2112.2 1766.4,2110.3 1768.7,2108.1 1770.5,2106.2 1772.2,2104.1 1774,2101.8 1775.4,2099.6 1777,2096.9 1778.4,2094.2 1779.8,2091.2 1781,2088.3 1782.2,2085 1783.3,2081.5 1784.2,2077.9 1785.1,2074.3 1785.8,2070.7 1786.4,2067.1 1787,2062.5 1787.5,2058 1787.8,2053.5 1788.2,2044.4 1788.1,2034.5 1787.7,2024.5 1786.7,2013.7 1785.5,2002.8 1783.7,1991.1 1781.6,1979.3 1778.9,1966.6 1776,1954 1772.7,1941.3 1768.8,1927.7 1764.6,1914.3 1760.3,1901.5 1755.8,1888.8 1750.6,1875 1745.2,1861.7 1739.5,1848.3 1733.6,1835.4 1727.8,1823.1 1721.7,1811 1715.5,1799.2 1709,1787.5 1702,1775.5 1695,1764 1688,1753.1 1681,1742.7 1673.6,1732.3 1666.2,1722.3 1658.7,1712.8 1650.9,1703.3 1643.1,1694.3 1635.3,1685.9 1627.7,1678.1 1620.1,1670.7 1611.9,1663.4 1603.7,1656.5 1596.1,1650.6 1588.5,1645.2 1580.9,1640.3 1577.3,1638.2 1573.3,1636 1566.3,1632.5 1562.8,1630.9 1559.3,1629.5 1555.8,1628.3 1552.3,1627.1 1549.3,1626.3 1545.8,1625.5 1542.3,1624.9 1539.4,1624.6 1536.5,1624.4 1533.5,1624.3 1530.6,1624.4 1527.7,1624.8 1524.8,1625.3 1522.4,1625.9 1520.1,1626.6 1517.7,1627.5 1515.4,1628.7 1513.7,1629.6 1511.6,1630.9 1509.6,1632.5 1507.8,1634 1506,1635.6 1504.3,1637.5 1502.5,1639.7 1501,1641.8 1499.6,1643.9 1498.2,1646.3 1496.8,1649 1495.6,1651.7 1494.4,1654.5 1492.5,1659.9 1490.8,1666.2 1489.3,1673.5 1488.2,1680.7 1487.4,1688.8 1487,1697 1486.9,1706 1487.1,1715.1 1487.6,1725 1488.5,1735 1489.7,1745.8 1491.4,1757.6 1493.2,1768.5 1495.5,1780.2 1498,1792 1500.8,1803.9 1504,1816.4 1507.5,1829.1 1511.3,1841.6 1515.4,1854.3 1519.5,1866.2 1523.7,1878 1528.3,1889.7 1533,1901.5 1538.2,1913.6 1543,1924.1 1548.2,1935.1 1553.4,1945.7 1558.7,1955.8 1564.1,1965.7 1569.8,1975.6 1575.3,1984.7 1580.9,1993.8 1586.8,2002.7 1592.6,2011.2 1599,2020 1604.9,2027.8 1611.3,2036 1617.7,2043.5 1624.2,2051 1630.7,2057.9 1637.1,2064.5 1644.1,2071.3 1651.1,2077.7 1657.7,2083.4 1664.6,2088.9 1671.6,2094.1 1678.4,2098.7 1685.1,2103 1691.9,2106.9 1698.5,2110.3 1704.9,2113.2 1711.4,2115.6 1717.2,2117.5 1723.1,2118.9 1728.9,2119.9 1731.9,2120.3Z" fill="#cde11d"/>
<path d="M1692.6,2028.2 1696.8,2028.6 1700.3,2028.7 1703.8,2028.3 1705.5,2028 1707.3,2027.5 1710.2,2026.4 1713.1,2024.8 1714.9,2023.6 1716,2022.7 1718.4,2020.4 1720.7,2017.5 1722.6,2014.6 1724.5,2011 1726,2007 1727.3,2002.8 1728.3,1998 1729.1,1992.9 1729.7,1987.4 1729.9,1982 1729.9,1975.7 1729.6,1969.3 1729.1,1963 1728.2,1955.8 1727.2,1948.9 1725.8,1941.3 1724.3,1934.1 1722.5,1926.7 1720.4,1918.7 1718,1910.5 1715.4,1902.4 1712.7,1894.2 1709.7,1886.1 1706.5,1878 1703.2,1869.8 1699.7,1861.7 1696.2,1854.1 1692.4,1846.3 1688.3,1838.1 1684.5,1830.9 1679.9,1822.8 1675.7,1815.5 1671,1807.9 1666.3,1800.6 1661.7,1793.8 1657,1787.1 1652.3,1780.8 1647.6,1774.8 1642.3,1768.4 1637.7,1763 1632.4,1757.3 1627.4,1752.2 1622.5,1747.4 1617.6,1743.1 1612.5,1738.9 1607.8,1735.4 1603.2,1732.2 1598.5,1729.3 1593.8,1726.8 1589.1,1724.8 1585,1723.3 1580.9,1722.2 1577.4,1721.6 1573.9,1721.4 1570.4,1721.5 1568.6,1721.8 1566.9,1722.1 1565.1,1722.7 1563.7,1723.2 1561,1724.5 1558.7,1726.1 1556.7,1727.8 1554.6,1730 1552.8,1732.3 1551.1,1735.2 1549.4,1738.6 1548,1742.2 1546.9,1745.8 1546,1749.5 1545.2,1754 1544.6,1758.5 1544.2,1763 1544,1768.5 1544,1773.9 1544.2,1779.3 1544.5,1784.8 1545.1,1791.1 1545.9,1797.4 1546.8,1803.8 1548.1,1811 1549.4,1817.3 1551,1824.6 1552.6,1830.9 1554.5,1838.1 1556.4,1844.6 1558.7,1852.2 1561,1859.3 1563.4,1866.2 1566.3,1873.9 1569.2,1881.3 1571.9,1887.9 1575.1,1895.1 1578,1901.5 1581,1907.8 1584.4,1914.8 1587.8,1921.4 1591.3,1927.7 1594.9,1934.1 1598.5,1940.2 1602,1945.9 1606,1952.2 1609.7,1957.6 1613.7,1963.3 1617.8,1968.9 1621.6,1973.9 1625.4,1978.6 1629.5,1983.4 1633.6,1988.1 1637.7,1992.5 1641.8,1996.6 1645.9,2000.6 1650,2004.3 1654,2007.8 1658.1,2011.1 1662.2,2014.1 1666.3,2016.9 1670.4,2019.4 1674.5,2021.7 1678,2023.4 1682.1,2025.2 1685.6,2026.4 1689.2,2027.4Z" fill="#fde725"/>
</g>
<circle cx="1636.5" cy="1877.1" r="6.5" fill="#f00"/>
<g class="tk" text-anchor="middle">
<text x="1464.7" y="2193.5">0.50</text>
<text x="1552.8" y="2193.5">0.51</text>
<text x="1640.8" y="2193.5">0.52</text>
<text x="1728.8" y="2193.5">0.53</text>
<text x="1816.9" y="2193.5">0.54</text>
</g>
<g class="tk" text-anchor="end">
<text x="1435.9" y="1637.9">1.85</text>
<text x="1435.9" y="1780.7">1.80</text>
<text x="1435.9" y="1923.4">1.75</text>
<text x="1435.9" y="2066.2">1.70</text>
</g>
<text class="gph" text-anchor="middle" x="1636.5" y="2213">ϕ</text>
<text class="gla" text-anchor="middle" transform="translate(1400.1,1877.1) rotate(-90)">λ</text>
<text class="lt" x="1854.8" y="1692">level</text>
<g class="ll">
<rect x="1855.9" y="1703.9" width="24.6" height="24.6" fill="#440154"/>
<text x="1890.1" y="1721.1">(−44.310, −44.305]</text>
<rect x="1855.9" y="1730.7" width="24.6" height="24.6" fill="#481c6e"/>
<text x="1890.1" y="1747.9">(−44.305, −44.300]</text>
<rect x="1855.9" y="1757.5" width="24.6" height="24.6" fill="#453581"/>
<text x="1890.1" y="1774.7">(−44.300, −44.295]</text>
<rect x="1855.9" y="1784.3" width="24.6" height="24.6" fill="#3d4d8a"/>
<text x="1890.1" y="1801.5">(−44.295, −44.290]</text>
<rect x="1855.9" y="1811.1" width="24.6" height="24.6" fill="#34618d"/>
<text x="1890.1" y="1828.3">(−44.290, −44.285]</text>
<rect x="1855.9" y="1837.9" width="24.6" height="24.6" fill="#2b748e"/>
<text x="1890.1" y="1855.1">(−44.285, −44.280]</text>
<rect x="1855.9" y="1864.7" width="24.6" height="24.6" fill="#24878e"/>
<text x="1890.1" y="1881.9">(−44.280, −44.275]</text>
<rect x="1855.9" y="1891.5" width="24.6" height="24.6" fill="#1f998a"/>
<text x="1890.1" y="1908.7">(−44.275, −44.270]</text>
<rect x="1855.9" y="1918.3" width="24.6" height="24.6" fill="#25ac82"/>
<text x="1890.1" y="1935.5">(−44.270, −44.265]</text>
<rect x="1855.9" y="1945.1" width="24.6" height="24.6" fill="#40bd72"/>
<text x="1890.1" y="1962.3">(−44.265, −44.260]</text>
<rect x="1855.9" y="1971.9" width="24.6" height="24.6" fill="#67cc5c"/>
<text x="1890.1" y="1989.1">(−44.260, −44.255]</text>
<rect x="1855.9" y="1998.7" width="24.6" height="24.6" fill="#98d83e"/>
<text x="1890.1" y="2015.9">(−44.255, −44.250]</text>
<rect x="1855.9" y="2025.5" width="24.6" height="24.6" fill="#cde11d"/>
<text x="1890.1" y="2042.7">(−44.250, −44.245]</text>
<rect x="1855.9" y="2052.3" width="24.6" height="24.6" fill="#fde725"/>
<text x="1890.1" y="2069.5">(−44.245, −44.240]</text>
</g>
</g>
<g class="cap">
<text x="837" y="712.3">(a)</text>
<text x="913.4" y="712.3" textLength="161.5" lengthAdjust="spacing">Sample</text>
<text class="cs" x="1086.5" y="712.3">𝒮</text>
<text x="1125.9 1138.5 1159.2" y="712.3">[1]</text>
</g>
<g class="cap">
<text x="837" y="1500.9">(b)</text>
<text x="913.4" y="1500.9" textLength="161.5" lengthAdjust="spacing">Sample</text>
<text class="cs" x="1086.5" y="1500.9">𝒮</text>
<text x="1125.9 1138.5 1159.2" y="1500.9">[2]</text>
</g>
<g class="cap">
<text x="837" y="2289.5">(c)</text>
<text x="913.4" y="2289.5" textLength="161.5" lengthAdjust="spacing">Sample</text>
<text class="cs" x="1086.5" y="2289.5">𝒮</text>
<text x="1125.9 1138.5 1159.2" y="2289.5">[3]</text>
</g>
</svg>
</body></html>
